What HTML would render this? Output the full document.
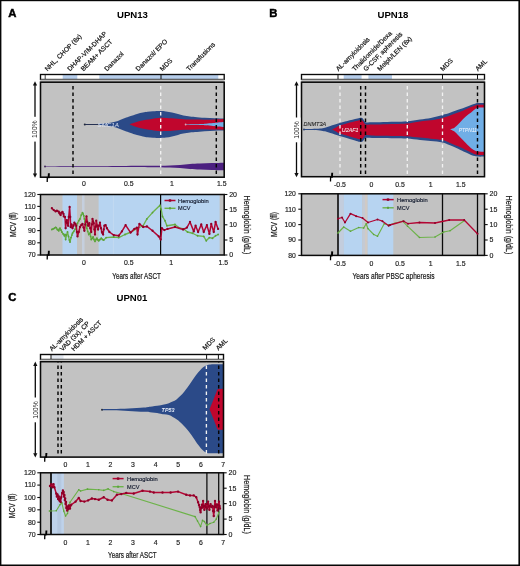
<!DOCTYPE html>
<html><head><meta charset="utf-8"><title>Figure</title>
<style>
html,body{margin:0;padding:0;background:#fff;}
body{width:520px;height:566px;overflow:hidden;}
svg{display:block;font-family:"Liberation Sans", "DejaVu Sans", sans-serif;will-change:transform;}
</style></head><body>
<svg width="520" height="566" viewBox="0 0 520 566">
<rect x="0" y="0" width="520" height="566" fill="#fff"/>
<rect x="0" y="0" width="520" height="1.2" fill="#060606"/>
<rect x="0" y="0" width="1.4" height="566" fill="#060606"/>
<rect x="518.4" y="0" width="1.6" height="566" fill="#060606"/>
<rect x="0" y="564.5" width="520" height="1.5" fill="#060606"/>
<text x="8.2" y="16.9" font-size="11.3" text-anchor="start" fill="#000" font-weight="bold" stroke="#000" stroke-width="0.45">A</text>
<text x="269.3" y="16.9" font-size="11.3" text-anchor="start" fill="#000" font-weight="bold" stroke="#000" stroke-width="0.45">B</text>
<text x="8.2" y="300.6" font-size="11.3" text-anchor="start" fill="#000" font-weight="bold" stroke="#000" stroke-width="0.45">C</text>
<text x="132.5" y="17.7" font-size="9.6" text-anchor="middle" fill="#000" font-weight="bold" >UPN13</text>
<text x="393" y="17.7" font-size="9.6" text-anchor="middle" fill="#000" font-weight="bold" >UPN18</text>
<text x="132" y="301.2" font-size="9.6" text-anchor="middle" fill="#000" font-weight="bold" >UPN01</text>
<rect x="40.5" y="74.5" width="183.7" height="5" fill="#fff"/>
<rect x="62.7" y="74.5" width="14.6" height="5" fill="#b6cdea"/>
<rect x="99.3" y="74.5" width="119" height="5" fill="#b6cdea"/>
<rect x="40.5" y="74.5" width="183.7" height="5" fill="none" stroke="#0a0a0a" stroke-width="1.35"/>
<line x1="45.2" y1="75" x2="45.2" y2="79.5" stroke="#111" stroke-width="0.8"/>
<line x1="161" y1="75" x2="161" y2="79.5" stroke="#111" stroke-width="1"/>
<rect x="40.5" y="79.5" width="183.7" height="3" fill="#bcbcbc"/>
<rect x="40.5" y="82.2" width="183.7" height="95" fill="#c2c2c2"/>
<path d="M84.8,124.1 C86.83,124.08 93.63,124.08 97.00,124.00 C100.37,123.92 102.55,123.83 105.00,123.60 C107.45,123.37 109.87,122.93 111.70,122.60 C113.53,122.27 114.62,122.05 116.00,121.60 C117.38,121.15 118.50,120.50 120.00,119.90 C121.50,119.30 123.33,118.60 125.00,118.00 C126.67,117.40 128.00,116.98 130.00,116.30 C132.00,115.62 134.83,114.53 137.00,113.90 C139.17,113.27 141.25,112.87 143.00,112.50 C144.75,112.13 145.83,111.90 147.50,111.70 C149.17,111.50 150.83,111.42 153.00,111.30 C155.17,111.18 158.33,110.98 160.50,111.00 C162.67,111.02 164.08,111.13 166.00,111.40 C167.92,111.67 170.00,112.15 172.00,112.60 C174.00,113.05 176.10,113.63 178.00,114.10 C179.90,114.57 181.40,115.02 183.40,115.40 C185.40,115.78 188.07,116.15 190.00,116.40 C191.93,116.65 192.57,116.67 195.00,116.90 C197.43,117.13 201.27,117.57 204.60,117.80 C207.93,118.03 211.73,118.18 215.00,118.30 C218.27,118.42 222.67,118.47 224.20,118.50 L224.2,130.5 C222.67,130.53 218.27,130.58 215.00,130.70 C211.73,130.82 207.93,130.97 204.60,131.20 C201.27,131.43 197.43,131.87 195.00,132.10 C192.57,132.33 191.93,132.35 190.00,132.60 C188.07,132.85 185.40,133.22 183.40,133.60 C181.40,133.98 179.90,134.43 178.00,134.90 C176.10,135.37 174.00,135.95 172.00,136.40 C170.00,136.85 167.92,137.33 166.00,137.60 C164.08,137.87 162.67,137.98 160.50,138.00 C158.33,138.02 155.17,137.82 153.00,137.70 C150.83,137.58 149.17,137.50 147.50,137.30 C145.83,137.10 144.75,136.87 143.00,136.50 C141.25,136.13 139.17,135.73 137.00,135.10 C134.83,134.47 132.00,133.38 130.00,132.70 C128.00,132.02 126.67,131.60 125.00,131.00 C123.33,130.40 121.50,129.70 120.00,129.10 C118.50,128.50 117.38,127.85 116.00,127.40 C114.62,126.95 113.53,126.73 111.70,126.40 C109.87,126.07 107.45,125.63 105.00,125.40 C102.55,125.17 100.37,125.08 97.00,125.00 C93.63,124.92 86.83,124.92 84.80,124.90 Z" fill="#2b4a88"/>
<path d="M129.5,124.5 C130.42,124.18 133.08,123.22 135.00,122.60 C136.92,121.98 139.17,121.27 141.00,120.80 C142.83,120.33 144.22,120.12 146.00,119.80 C147.78,119.48 150.03,119.17 151.70,118.90 C153.37,118.63 154.53,118.38 156.00,118.20 C157.47,118.02 158.83,117.85 160.50,117.80 C162.17,117.75 164.08,117.82 166.00,117.90 C167.92,117.98 169.10,118.08 172.00,118.30 C174.90,118.52 179.57,118.98 183.40,119.20 C187.23,119.42 191.47,119.51 195.00,119.60 C198.53,119.69 201.27,119.78 204.60,119.75 C207.93,119.72 211.73,119.51 215.00,119.40 C218.27,119.29 222.67,119.15 224.20,119.10 L224.2,129.9 C222.67,129.85 218.27,129.71 215.00,129.60 C211.73,129.49 207.93,129.28 204.60,129.25 C201.27,129.22 198.53,129.31 195.00,129.40 C191.47,129.49 187.23,129.58 183.40,129.80 C179.57,130.02 174.90,130.48 172.00,130.70 C169.10,130.92 167.92,131.02 166.00,131.10 C164.08,131.18 162.17,131.25 160.50,131.20 C158.83,131.15 157.47,130.98 156.00,130.80 C154.53,130.62 153.37,130.37 151.70,130.10 C150.03,129.83 147.78,129.52 146.00,129.20 C144.22,128.88 142.83,128.67 141.00,128.20 C139.17,127.73 136.92,127.02 135.00,126.40 C133.08,125.78 130.42,124.82 129.50,124.50 Z" fill="#c0062d"/>
<path d="M185.5,124.25 C187.92,124.22 196.58,124.17 200.00,124.10 C203.42,124.02 203.83,123.97 206.00,123.80 C208.17,123.63 211.00,123.32 213.00,123.10 C215.00,122.88 216.13,122.68 218.00,122.50 C219.87,122.32 223.17,122.08 224.20,122.00 L224.2,127.0 C223.17,126.92 219.87,126.68 218.00,126.50 C216.13,126.32 215.00,126.12 213.00,125.90 C211.00,125.68 208.17,125.37 206.00,125.20 C203.83,125.03 203.42,124.98 200.00,124.90 C196.58,124.83 187.92,124.78 185.50,124.75 Z" fill="#70aee6"/>
<circle cx="84.8" cy="124.5" r="1.05" fill="#222a3a"/>
<circle cx="185.6" cy="124.5" r="0.9" fill="#d9a6b4"/>
<path d="M45,166.15 C57.50,166.12 102.50,166.05 120.00,166.00 C137.50,165.95 143.33,165.90 150.00,165.85 C156.67,165.80 156.67,165.77 160.00,165.70 C163.33,165.62 166.67,165.53 170.00,165.40 C173.33,165.27 176.67,165.13 180.00,164.90 C183.33,164.67 186.67,164.23 190.00,164.00 C193.33,163.77 196.33,163.67 200.00,163.50 C203.67,163.33 207.97,163.14 212.00,163.00 C216.03,162.86 222.17,162.71 224.20,162.65 L224.2,170.35 C222.17,170.29 216.03,170.14 212.00,170.00 C207.97,169.86 203.67,169.67 200.00,169.50 C196.33,169.33 193.33,169.23 190.00,169.00 C186.67,168.77 183.33,168.33 180.00,168.10 C176.67,167.87 173.33,167.73 170.00,167.60 C166.67,167.47 163.33,167.38 160.00,167.30 C156.67,167.23 156.67,167.20 150.00,167.15 C143.33,167.10 137.50,167.05 120.00,167.00 C102.50,166.95 57.50,166.88 45.00,166.85 Z" fill="#4c2080"/>
<circle cx="45" cy="166.5" r="0.9" fill="#3a2050"/>
<line x1="84.8" y1="124.5" x2="99" y2="124.5" stroke="#27304d" stroke-width="0.9"/>
<text x="97.5" y="126.6" font-size="5.8" text-anchor="start" fill="#dde4f2" font-style="italic" textLength="21.5" lengthAdjust="spacingAndGlyphs" >SMC1A</text>
<line x1="73" y1="82.5" x2="73" y2="176.5" stroke="#050505" stroke-width="1.45" stroke-dasharray="3.4 3.1" stroke-dashoffset="2.9"/>
<line x1="160.7" y1="82.5" x2="160.7" y2="176.3" stroke="#f2f2f2" stroke-width="1.35" stroke-dasharray="3.4 3.1" stroke-dashoffset="2.9"/>
<line x1="216.3" y1="82.5" x2="216.3" y2="176.3" stroke="#050505" stroke-width="1.45" stroke-dasharray="3.4 3.1" stroke-dashoffset="2.9"/>
<rect x="40.5" y="82.2" width="183.7" height="95" fill="none" stroke="#0a0a0a" stroke-width="1.55"/>
<line x1="35" y1="83.2" x2="35" y2="175.8" stroke="#0a0a0a" stroke-width="1.3"/>
<path d="M35,81.2 L32.9,85.60000000000001 L37.1,85.60000000000001 Z" fill="#111"/>
<path d="M35,177.8 L32.9,173.4 L37.1,173.4 Z" fill="#111"/>
<rect x="31" y="116.8" width="8" height="24.8" fill="#fff"/>
<text x="37.4" y="129.2" font-size="6.9" text-anchor="middle" fill="#111" transform="rotate(-90 37.4 129.2)" >100%</text>
<path d="M48.9,173.3 L48.6,178.1" fill="none" stroke="#000" stroke-width="1.9"/>
<path d="M48.4,177.7 L47.3,177.7 L47.2,182.1" fill="none" stroke="#000" stroke-width="1.3"/>
<text x="47.5" y="71.5" font-size="6.6" text-anchor="start" fill="#141414" transform="rotate(-45 47.5 71.5)" stroke="#141414" stroke-width="0.2">NHL, CHOP (6x)</text>
<text x="70" y="71.5" font-size="6.6" text-anchor="start" fill="#141414" transform="rotate(-45 70 71.5)" stroke="#141414" stroke-width="0.2">DHAP-VIM-DHAP</text>
<text x="83.5" y="71.5" font-size="6.6" text-anchor="start" fill="#141414" transform="rotate(-45 83.5 71.5)" stroke="#141414" stroke-width="0.2">BEAM+ ASCT</text>
<text x="107" y="71.5" font-size="6.6" text-anchor="start" fill="#141414" transform="rotate(-45 107 71.5)" stroke="#141414" stroke-width="0.2">Danazol</text>
<text x="138.3" y="71.5" font-size="6.6" text-anchor="start" fill="#141414" transform="rotate(-45 138.3 71.5)" stroke="#141414" stroke-width="0.2">Danazol/ EPO</text>
<text x="162.5" y="71.5" font-size="6.6" text-anchor="start" fill="#141414" transform="rotate(-45 162.5 71.5)" stroke="#141414" stroke-width="0.2">MDS</text>
<text x="189" y="71.5" font-size="6.6" text-anchor="start" fill="#141414" transform="rotate(-45 189 71.5)" stroke="#141414" stroke-width="0.2">Transfusions</text>
<text x="84" y="186.1" font-size="6.9" text-anchor="middle" fill="#1c1c1c" stroke="#1c1c1c" stroke-width="0.16">0</text>
<text x="128.8" y="186.1" font-size="6.9" text-anchor="middle" fill="#1c1c1c" stroke="#1c1c1c" stroke-width="0.16">0.5</text>
<text x="171.8" y="186.1" font-size="6.9" text-anchor="middle" fill="#1c1c1c" stroke="#1c1c1c" stroke-width="0.16">1</text>
<text x="221.8" y="186.1" font-size="6.9" text-anchor="middle" fill="#1c1c1c" stroke="#1c1c1c" stroke-width="0.16">1.5</text>
<rect x="40.5" y="194.5" width="183.7" height="60.5" fill="#c2c2c2"/>
<rect x="62.5" y="194.5" width="14.5" height="60.5" fill="#b7d4f1"/>
<rect x="82" y="194.5" width="2.5" height="60.5" fill="#c5cfde"/>
<rect x="98.6" y="194.5" width="121" height="60.5" fill="#b7d4f1"/>
<line x1="113.4" y1="194.5" x2="113.4" y2="255" stroke="#c2d9f1" stroke-width="1"/>
<line x1="160.6" y1="194.5" x2="160.6" y2="255" stroke="#0a0a0a" stroke-width="1.2"/>
<polyline points="51.88,229.5 53.12,228.88 54.38,228.25 55.62,227.38 56.25,227.62 57.25,229.5 58.12,230.12 58.75,230.75 59.38,228.88 60.0,228.25 61.0,230.12 61.88,232.0 63.12,233.88 64.38,235.75 65.0,234.5 65.62,239.5 66.5,235.12 67.5,232.0 68.5,236.38 69.38,240.12 70.0,242.0 71.0,237.62 71.88,235.12 72.5,233.25 73.75,231.38 75.0,229.5 76.25,226.38 77.5,223.25 78.75,220.75 80.0,218.88 81.25,215.12 82.5,212.62 83.12,213.88 83.75,215.75 84.38,218.88 85.0,222.0 86.0,225.12 86.88,228.25 87.75,231.38 88.75,234.5 89.38,233.5 90.0,233.25 90.62,236.38 91.25,239.5 92.25,238.25 93.12,237.0 94.0,239.5 95.0,241.38 96.0,239.5 96.88,238.25 97.75,239.75 98.75,240.75 100.0,239.5 101.25,238.25 102.5,239.5 103.75,240.12 106.25,237.6 113.75,237 118.75,237.6 125,234.5 131.25,232 137.5,228.25 143.1,225.75 146.9,218.9 152.5,212.6 160,205.3 161.25,209.5 162.5,216.5 165,220.75 166.9,225.75 175,224.5 178.75,227.6 183.75,228.9 187.5,232 192.5,233.25 197.5,235.75 203.75,236.4 206.25,240.75 209.4,237.6 212.5,238.25 215.6,235.75 218.1,234.5" fill="none" stroke="#6db34a" stroke-width="1.35" stroke-linejoin="round" stroke-linecap="round"/>
<path d="M50.98,229.50a0.9,0.9 0 1,0 1.8,0a0.9,0.9 0 1,0 -1.8,0M52.22,228.88a0.9,0.9 0 1,0 1.8,0a0.9,0.9 0 1,0 -1.8,0M53.48,228.25a0.9,0.9 0 1,0 1.8,0a0.9,0.9 0 1,0 -1.8,0M54.72,227.38a0.9,0.9 0 1,0 1.8,0a0.9,0.9 0 1,0 -1.8,0M55.35,227.62a0.9,0.9 0 1,0 1.8,0a0.9,0.9 0 1,0 -1.8,0M56.35,229.50a0.9,0.9 0 1,0 1.8,0a0.9,0.9 0 1,0 -1.8,0M57.22,230.12a0.9,0.9 0 1,0 1.8,0a0.9,0.9 0 1,0 -1.8,0M57.85,230.75a0.9,0.9 0 1,0 1.8,0a0.9,0.9 0 1,0 -1.8,0M58.48,228.88a0.9,0.9 0 1,0 1.8,0a0.9,0.9 0 1,0 -1.8,0M59.10,228.25a0.9,0.9 0 1,0 1.8,0a0.9,0.9 0 1,0 -1.8,0M60.10,230.12a0.9,0.9 0 1,0 1.8,0a0.9,0.9 0 1,0 -1.8,0M60.98,232.00a0.9,0.9 0 1,0 1.8,0a0.9,0.9 0 1,0 -1.8,0M62.22,233.88a0.9,0.9 0 1,0 1.8,0a0.9,0.9 0 1,0 -1.8,0M63.48,235.75a0.9,0.9 0 1,0 1.8,0a0.9,0.9 0 1,0 -1.8,0M64.10,234.50a0.9,0.9 0 1,0 1.8,0a0.9,0.9 0 1,0 -1.8,0M64.72,239.50a0.9,0.9 0 1,0 1.8,0a0.9,0.9 0 1,0 -1.8,0M65.60,235.12a0.9,0.9 0 1,0 1.8,0a0.9,0.9 0 1,0 -1.8,0M66.60,232.00a0.9,0.9 0 1,0 1.8,0a0.9,0.9 0 1,0 -1.8,0M67.60,236.38a0.9,0.9 0 1,0 1.8,0a0.9,0.9 0 1,0 -1.8,0M68.48,240.12a0.9,0.9 0 1,0 1.8,0a0.9,0.9 0 1,0 -1.8,0M69.10,242.00a0.9,0.9 0 1,0 1.8,0a0.9,0.9 0 1,0 -1.8,0M70.10,237.62a0.9,0.9 0 1,0 1.8,0a0.9,0.9 0 1,0 -1.8,0M70.98,235.12a0.9,0.9 0 1,0 1.8,0a0.9,0.9 0 1,0 -1.8,0M71.60,233.25a0.9,0.9 0 1,0 1.8,0a0.9,0.9 0 1,0 -1.8,0M72.85,231.38a0.9,0.9 0 1,0 1.8,0a0.9,0.9 0 1,0 -1.8,0M74.10,229.50a0.9,0.9 0 1,0 1.8,0a0.9,0.9 0 1,0 -1.8,0M75.35,226.38a0.9,0.9 0 1,0 1.8,0a0.9,0.9 0 1,0 -1.8,0M76.60,223.25a0.9,0.9 0 1,0 1.8,0a0.9,0.9 0 1,0 -1.8,0M77.85,220.75a0.9,0.9 0 1,0 1.8,0a0.9,0.9 0 1,0 -1.8,0M79.10,218.88a0.9,0.9 0 1,0 1.8,0a0.9,0.9 0 1,0 -1.8,0M80.35,215.12a0.9,0.9 0 1,0 1.8,0a0.9,0.9 0 1,0 -1.8,0M81.60,212.62a0.9,0.9 0 1,0 1.8,0a0.9,0.9 0 1,0 -1.8,0M82.22,213.88a0.9,0.9 0 1,0 1.8,0a0.9,0.9 0 1,0 -1.8,0M82.85,215.75a0.9,0.9 0 1,0 1.8,0a0.9,0.9 0 1,0 -1.8,0M83.48,218.88a0.9,0.9 0 1,0 1.8,0a0.9,0.9 0 1,0 -1.8,0M84.10,222.00a0.9,0.9 0 1,0 1.8,0a0.9,0.9 0 1,0 -1.8,0M85.10,225.12a0.9,0.9 0 1,0 1.8,0a0.9,0.9 0 1,0 -1.8,0M85.98,228.25a0.9,0.9 0 1,0 1.8,0a0.9,0.9 0 1,0 -1.8,0M86.85,231.38a0.9,0.9 0 1,0 1.8,0a0.9,0.9 0 1,0 -1.8,0M87.85,234.50a0.9,0.9 0 1,0 1.8,0a0.9,0.9 0 1,0 -1.8,0M88.48,233.50a0.9,0.9 0 1,0 1.8,0a0.9,0.9 0 1,0 -1.8,0M89.10,233.25a0.9,0.9 0 1,0 1.8,0a0.9,0.9 0 1,0 -1.8,0M89.72,236.38a0.9,0.9 0 1,0 1.8,0a0.9,0.9 0 1,0 -1.8,0M90.35,239.50a0.9,0.9 0 1,0 1.8,0a0.9,0.9 0 1,0 -1.8,0M91.35,238.25a0.9,0.9 0 1,0 1.8,0a0.9,0.9 0 1,0 -1.8,0M92.22,237.00a0.9,0.9 0 1,0 1.8,0a0.9,0.9 0 1,0 -1.8,0M93.10,239.50a0.9,0.9 0 1,0 1.8,0a0.9,0.9 0 1,0 -1.8,0M94.10,241.38a0.9,0.9 0 1,0 1.8,0a0.9,0.9 0 1,0 -1.8,0M95.10,239.50a0.9,0.9 0 1,0 1.8,0a0.9,0.9 0 1,0 -1.8,0M95.98,238.25a0.9,0.9 0 1,0 1.8,0a0.9,0.9 0 1,0 -1.8,0M96.85,239.75a0.9,0.9 0 1,0 1.8,0a0.9,0.9 0 1,0 -1.8,0M97.85,240.75a0.9,0.9 0 1,0 1.8,0a0.9,0.9 0 1,0 -1.8,0M99.10,239.50a0.9,0.9 0 1,0 1.8,0a0.9,0.9 0 1,0 -1.8,0M100.35,238.25a0.9,0.9 0 1,0 1.8,0a0.9,0.9 0 1,0 -1.8,0M101.60,239.50a0.9,0.9 0 1,0 1.8,0a0.9,0.9 0 1,0 -1.8,0M102.85,240.12a0.9,0.9 0 1,0 1.8,0a0.9,0.9 0 1,0 -1.8,0M105.35,237.60a0.9,0.9 0 1,0 1.8,0a0.9,0.9 0 1,0 -1.8,0M112.85,237.00a0.9,0.9 0 1,0 1.8,0a0.9,0.9 0 1,0 -1.8,0M117.85,237.60a0.9,0.9 0 1,0 1.8,0a0.9,0.9 0 1,0 -1.8,0M124.10,234.50a0.9,0.9 0 1,0 1.8,0a0.9,0.9 0 1,0 -1.8,0M130.35,232.00a0.9,0.9 0 1,0 1.8,0a0.9,0.9 0 1,0 -1.8,0M136.60,228.25a0.9,0.9 0 1,0 1.8,0a0.9,0.9 0 1,0 -1.8,0M142.20,225.75a0.9,0.9 0 1,0 1.8,0a0.9,0.9 0 1,0 -1.8,0M146.00,218.90a0.9,0.9 0 1,0 1.8,0a0.9,0.9 0 1,0 -1.8,0M151.60,212.60a0.9,0.9 0 1,0 1.8,0a0.9,0.9 0 1,0 -1.8,0M159.10,205.30a0.9,0.9 0 1,0 1.8,0a0.9,0.9 0 1,0 -1.8,0M160.35,209.50a0.9,0.9 0 1,0 1.8,0a0.9,0.9 0 1,0 -1.8,0M161.60,216.50a0.9,0.9 0 1,0 1.8,0a0.9,0.9 0 1,0 -1.8,0M164.10,220.75a0.9,0.9 0 1,0 1.8,0a0.9,0.9 0 1,0 -1.8,0M166.00,225.75a0.9,0.9 0 1,0 1.8,0a0.9,0.9 0 1,0 -1.8,0M174.10,224.50a0.9,0.9 0 1,0 1.8,0a0.9,0.9 0 1,0 -1.8,0M177.85,227.60a0.9,0.9 0 1,0 1.8,0a0.9,0.9 0 1,0 -1.8,0M182.85,228.90a0.9,0.9 0 1,0 1.8,0a0.9,0.9 0 1,0 -1.8,0M186.60,232.00a0.9,0.9 0 1,0 1.8,0a0.9,0.9 0 1,0 -1.8,0M191.60,233.25a0.9,0.9 0 1,0 1.8,0a0.9,0.9 0 1,0 -1.8,0M196.60,235.75a0.9,0.9 0 1,0 1.8,0a0.9,0.9 0 1,0 -1.8,0M202.85,236.40a0.9,0.9 0 1,0 1.8,0a0.9,0.9 0 1,0 -1.8,0M205.35,240.75a0.9,0.9 0 1,0 1.8,0a0.9,0.9 0 1,0 -1.8,0M208.50,237.60a0.9,0.9 0 1,0 1.8,0a0.9,0.9 0 1,0 -1.8,0M211.60,238.25a0.9,0.9 0 1,0 1.8,0a0.9,0.9 0 1,0 -1.8,0M214.70,235.75a0.9,0.9 0 1,0 1.8,0a0.9,0.9 0 1,0 -1.8,0M217.20,234.50a0.9,0.9 0 1,0 1.8,0a0.9,0.9 0 1,0 -1.8,0" fill="#5aa23a"/>
<polyline points="51.88,208.25 53.75,210.12 55.62,211.38 56.88,210.75 58.75,211.75 59.38,213.25 60.62,215.12 61.5,212.62 62.5,212.0 63.5,213.88 63.75,216.38 65.0,217.0 65.62,228.25 66.25,222.0 66.88,220.12 67.5,223.25 68.12,225.75 68.75,217.0 69.62,207.0 70.25,217.0 70.62,227.0 71.5,224.5 72.5,228.25 73.5,225.75 74.38,222.62 75.38,223.88 76.25,225.75 76.88,232.0 77.5,236.38 78.75,232.0 80.0,227.0 81.25,225.12 82.5,223.88 83.5,227.62 84.38,230.75 85.25,224.5 86.5,216.38 87.25,222.0 88.12,225.75 88.75,223.88 89.38,223.25 90.25,228.25 91.25,232.0 91.88,224.5 92.5,218.88 93.12,221.38 93.75,223.25 94.38,229.5 95.0,234.5 95.62,227.0 96.25,220.75 97.25,225.75 98.12,229.5 99.0,225.75 100.0,222.62 101.0,228.25 101.88,232.0 102.5,233.25 103.12,234.5 103.75,229.5 104.38,225.75 105.6,225.1 106.9,228.25 109.4,232 113.75,235.1 118.75,235.75 121.9,231.4 125.6,225.1 130.6,232.6 134.4,228.9 136.9,227.6 137.5,234.5 139.4,223.9 143.1,227 146.9,226.4 152.5,230.75 158.75,236.4 160.7,239.5 161.9,228.25 164.4,230.1 167.5,228.9 175,227 183.1,229.5 186.9,227.6 190,222 193.75,231.4 195.6,225.75 198.1,232 201.25,224.5 203.75,232 206.9,225.1 209.4,233.9 211.25,223.9 213.75,232 215.6,222 218.1,228.9" fill="none" stroke="#b30533" stroke-width="1.5" stroke-linejoin="round" stroke-linecap="round"/>
<path d="M50.73,208.25a1.15,1.15 0 1,0 2.3,0a1.15,1.15 0 1,0 -2.3,0M52.60,210.12a1.15,1.15 0 1,0 2.3,0a1.15,1.15 0 1,0 -2.3,0M54.47,211.38a1.15,1.15 0 1,0 2.3,0a1.15,1.15 0 1,0 -2.3,0M55.73,210.75a1.15,1.15 0 1,0 2.3,0a1.15,1.15 0 1,0 -2.3,0M57.60,211.75a1.15,1.15 0 1,0 2.3,0a1.15,1.15 0 1,0 -2.3,0M58.23,213.25a1.15,1.15 0 1,0 2.3,0a1.15,1.15 0 1,0 -2.3,0M59.47,215.12a1.15,1.15 0 1,0 2.3,0a1.15,1.15 0 1,0 -2.3,0M60.35,212.62a1.15,1.15 0 1,0 2.3,0a1.15,1.15 0 1,0 -2.3,0M61.35,212.00a1.15,1.15 0 1,0 2.3,0a1.15,1.15 0 1,0 -2.3,0M62.35,213.88a1.15,1.15 0 1,0 2.3,0a1.15,1.15 0 1,0 -2.3,0M62.60,216.38a1.15,1.15 0 1,0 2.3,0a1.15,1.15 0 1,0 -2.3,0M63.85,217.00a1.15,1.15 0 1,0 2.3,0a1.15,1.15 0 1,0 -2.3,0M64.47,228.25a1.15,1.15 0 1,0 2.3,0a1.15,1.15 0 1,0 -2.3,0M65.10,222.00a1.15,1.15 0 1,0 2.3,0a1.15,1.15 0 1,0 -2.3,0M65.73,220.12a1.15,1.15 0 1,0 2.3,0a1.15,1.15 0 1,0 -2.3,0M66.35,223.25a1.15,1.15 0 1,0 2.3,0a1.15,1.15 0 1,0 -2.3,0M66.97,225.75a1.15,1.15 0 1,0 2.3,0a1.15,1.15 0 1,0 -2.3,0M67.60,217.00a1.15,1.15 0 1,0 2.3,0a1.15,1.15 0 1,0 -2.3,0M68.47,207.00a1.15,1.15 0 1,0 2.3,0a1.15,1.15 0 1,0 -2.3,0M69.10,217.00a1.15,1.15 0 1,0 2.3,0a1.15,1.15 0 1,0 -2.3,0M69.47,227.00a1.15,1.15 0 1,0 2.3,0a1.15,1.15 0 1,0 -2.3,0M70.35,224.50a1.15,1.15 0 1,0 2.3,0a1.15,1.15 0 1,0 -2.3,0M71.35,228.25a1.15,1.15 0 1,0 2.3,0a1.15,1.15 0 1,0 -2.3,0M72.35,225.75a1.15,1.15 0 1,0 2.3,0a1.15,1.15 0 1,0 -2.3,0M73.23,222.62a1.15,1.15 0 1,0 2.3,0a1.15,1.15 0 1,0 -2.3,0M74.23,223.88a1.15,1.15 0 1,0 2.3,0a1.15,1.15 0 1,0 -2.3,0M75.10,225.75a1.15,1.15 0 1,0 2.3,0a1.15,1.15 0 1,0 -2.3,0M75.73,232.00a1.15,1.15 0 1,0 2.3,0a1.15,1.15 0 1,0 -2.3,0M76.35,236.38a1.15,1.15 0 1,0 2.3,0a1.15,1.15 0 1,0 -2.3,0M77.60,232.00a1.15,1.15 0 1,0 2.3,0a1.15,1.15 0 1,0 -2.3,0M78.85,227.00a1.15,1.15 0 1,0 2.3,0a1.15,1.15 0 1,0 -2.3,0M80.10,225.12a1.15,1.15 0 1,0 2.3,0a1.15,1.15 0 1,0 -2.3,0M81.35,223.88a1.15,1.15 0 1,0 2.3,0a1.15,1.15 0 1,0 -2.3,0M82.35,227.62a1.15,1.15 0 1,0 2.3,0a1.15,1.15 0 1,0 -2.3,0M83.23,230.75a1.15,1.15 0 1,0 2.3,0a1.15,1.15 0 1,0 -2.3,0M84.10,224.50a1.15,1.15 0 1,0 2.3,0a1.15,1.15 0 1,0 -2.3,0M85.35,216.38a1.15,1.15 0 1,0 2.3,0a1.15,1.15 0 1,0 -2.3,0M86.10,222.00a1.15,1.15 0 1,0 2.3,0a1.15,1.15 0 1,0 -2.3,0M86.97,225.75a1.15,1.15 0 1,0 2.3,0a1.15,1.15 0 1,0 -2.3,0M87.60,223.88a1.15,1.15 0 1,0 2.3,0a1.15,1.15 0 1,0 -2.3,0M88.23,223.25a1.15,1.15 0 1,0 2.3,0a1.15,1.15 0 1,0 -2.3,0M89.10,228.25a1.15,1.15 0 1,0 2.3,0a1.15,1.15 0 1,0 -2.3,0M90.10,232.00a1.15,1.15 0 1,0 2.3,0a1.15,1.15 0 1,0 -2.3,0M90.73,224.50a1.15,1.15 0 1,0 2.3,0a1.15,1.15 0 1,0 -2.3,0M91.35,218.88a1.15,1.15 0 1,0 2.3,0a1.15,1.15 0 1,0 -2.3,0M91.97,221.38a1.15,1.15 0 1,0 2.3,0a1.15,1.15 0 1,0 -2.3,0M92.60,223.25a1.15,1.15 0 1,0 2.3,0a1.15,1.15 0 1,0 -2.3,0M93.23,229.50a1.15,1.15 0 1,0 2.3,0a1.15,1.15 0 1,0 -2.3,0M93.85,234.50a1.15,1.15 0 1,0 2.3,0a1.15,1.15 0 1,0 -2.3,0M94.47,227.00a1.15,1.15 0 1,0 2.3,0a1.15,1.15 0 1,0 -2.3,0M95.10,220.75a1.15,1.15 0 1,0 2.3,0a1.15,1.15 0 1,0 -2.3,0M96.10,225.75a1.15,1.15 0 1,0 2.3,0a1.15,1.15 0 1,0 -2.3,0M96.97,229.50a1.15,1.15 0 1,0 2.3,0a1.15,1.15 0 1,0 -2.3,0M97.85,225.75a1.15,1.15 0 1,0 2.3,0a1.15,1.15 0 1,0 -2.3,0M98.85,222.62a1.15,1.15 0 1,0 2.3,0a1.15,1.15 0 1,0 -2.3,0M99.85,228.25a1.15,1.15 0 1,0 2.3,0a1.15,1.15 0 1,0 -2.3,0M100.73,232.00a1.15,1.15 0 1,0 2.3,0a1.15,1.15 0 1,0 -2.3,0M101.35,233.25a1.15,1.15 0 1,0 2.3,0a1.15,1.15 0 1,0 -2.3,0M101.97,234.50a1.15,1.15 0 1,0 2.3,0a1.15,1.15 0 1,0 -2.3,0M102.60,229.50a1.15,1.15 0 1,0 2.3,0a1.15,1.15 0 1,0 -2.3,0M103.23,225.75a1.15,1.15 0 1,0 2.3,0a1.15,1.15 0 1,0 -2.3,0M104.45,225.10a1.15,1.15 0 1,0 2.3,0a1.15,1.15 0 1,0 -2.3,0M105.75,228.25a1.15,1.15 0 1,0 2.3,0a1.15,1.15 0 1,0 -2.3,0M108.25,232.00a1.15,1.15 0 1,0 2.3,0a1.15,1.15 0 1,0 -2.3,0M112.60,235.10a1.15,1.15 0 1,0 2.3,0a1.15,1.15 0 1,0 -2.3,0M117.60,235.75a1.15,1.15 0 1,0 2.3,0a1.15,1.15 0 1,0 -2.3,0M120.75,231.40a1.15,1.15 0 1,0 2.3,0a1.15,1.15 0 1,0 -2.3,0M124.45,225.10a1.15,1.15 0 1,0 2.3,0a1.15,1.15 0 1,0 -2.3,0M129.45,232.60a1.15,1.15 0 1,0 2.3,0a1.15,1.15 0 1,0 -2.3,0M133.25,228.90a1.15,1.15 0 1,0 2.3,0a1.15,1.15 0 1,0 -2.3,0M135.75,227.60a1.15,1.15 0 1,0 2.3,0a1.15,1.15 0 1,0 -2.3,0M136.35,234.50a1.15,1.15 0 1,0 2.3,0a1.15,1.15 0 1,0 -2.3,0M138.25,223.90a1.15,1.15 0 1,0 2.3,0a1.15,1.15 0 1,0 -2.3,0M141.95,227.00a1.15,1.15 0 1,0 2.3,0a1.15,1.15 0 1,0 -2.3,0M145.75,226.40a1.15,1.15 0 1,0 2.3,0a1.15,1.15 0 1,0 -2.3,0M151.35,230.75a1.15,1.15 0 1,0 2.3,0a1.15,1.15 0 1,0 -2.3,0M157.60,236.40a1.15,1.15 0 1,0 2.3,0a1.15,1.15 0 1,0 -2.3,0M159.55,239.50a1.15,1.15 0 1,0 2.3,0a1.15,1.15 0 1,0 -2.3,0M160.75,228.25a1.15,1.15 0 1,0 2.3,0a1.15,1.15 0 1,0 -2.3,0M163.25,230.10a1.15,1.15 0 1,0 2.3,0a1.15,1.15 0 1,0 -2.3,0M166.35,228.90a1.15,1.15 0 1,0 2.3,0a1.15,1.15 0 1,0 -2.3,0M173.85,227.00a1.15,1.15 0 1,0 2.3,0a1.15,1.15 0 1,0 -2.3,0M181.95,229.50a1.15,1.15 0 1,0 2.3,0a1.15,1.15 0 1,0 -2.3,0M185.75,227.60a1.15,1.15 0 1,0 2.3,0a1.15,1.15 0 1,0 -2.3,0M188.85,222.00a1.15,1.15 0 1,0 2.3,0a1.15,1.15 0 1,0 -2.3,0M192.60,231.40a1.15,1.15 0 1,0 2.3,0a1.15,1.15 0 1,0 -2.3,0M194.45,225.75a1.15,1.15 0 1,0 2.3,0a1.15,1.15 0 1,0 -2.3,0M196.95,232.00a1.15,1.15 0 1,0 2.3,0a1.15,1.15 0 1,0 -2.3,0M200.10,224.50a1.15,1.15 0 1,0 2.3,0a1.15,1.15 0 1,0 -2.3,0M202.60,232.00a1.15,1.15 0 1,0 2.3,0a1.15,1.15 0 1,0 -2.3,0M205.75,225.10a1.15,1.15 0 1,0 2.3,0a1.15,1.15 0 1,0 -2.3,0M208.25,233.90a1.15,1.15 0 1,0 2.3,0a1.15,1.15 0 1,0 -2.3,0M210.10,223.90a1.15,1.15 0 1,0 2.3,0a1.15,1.15 0 1,0 -2.3,0M212.60,232.00a1.15,1.15 0 1,0 2.3,0a1.15,1.15 0 1,0 -2.3,0M214.45,222.00a1.15,1.15 0 1,0 2.3,0a1.15,1.15 0 1,0 -2.3,0M216.95,228.90a1.15,1.15 0 1,0 2.3,0a1.15,1.15 0 1,0 -2.3,0" fill="#8f0028"/>
<rect x="40.5" y="194.5" width="183.7" height="60.5" fill="none" stroke="#0a0a0a" stroke-width="1.5"/>
<line x1="37.3" y1="194.5" x2="40.5" y2="194.5" stroke="#111" stroke-width="1.1"/>
<text x="35.7" y="196.8" font-size="7" text-anchor="end" fill="#1c1c1c" stroke="#1c1c1c" stroke-width="0.16">120</text>
<line x1="37.3" y1="206.4" x2="40.5" y2="206.4" stroke="#111" stroke-width="1.1"/>
<text x="35.7" y="208.70000000000002" font-size="7" text-anchor="end" fill="#1c1c1c" stroke="#1c1c1c" stroke-width="0.16">110</text>
<line x1="37.3" y1="218.4" x2="40.5" y2="218.4" stroke="#111" stroke-width="1.1"/>
<text x="35.7" y="220.70000000000002" font-size="7" text-anchor="end" fill="#1c1c1c" stroke="#1c1c1c" stroke-width="0.16">100</text>
<line x1="37.3" y1="230.6" x2="40.5" y2="230.6" stroke="#111" stroke-width="1.1"/>
<text x="35.7" y="232.9" font-size="7" text-anchor="end" fill="#1c1c1c" stroke="#1c1c1c" stroke-width="0.16">90</text>
<line x1="37.3" y1="242.8" x2="40.5" y2="242.8" stroke="#111" stroke-width="1.1"/>
<text x="35.7" y="245.10000000000002" font-size="7" text-anchor="end" fill="#1c1c1c" stroke="#1c1c1c" stroke-width="0.16">80</text>
<line x1="37.3" y1="255" x2="40.5" y2="255" stroke="#111" stroke-width="1.1"/>
<text x="35.7" y="257.3" font-size="7" text-anchor="end" fill="#1c1c1c" stroke="#1c1c1c" stroke-width="0.16">70</text>
<line x1="224.2" y1="194.5" x2="227.39999999999998" y2="194.5" stroke="#111" stroke-width="1.1"/>
<text x="229.2" y="196.8" font-size="7" text-anchor="start" fill="#1c1c1c" stroke="#1c1c1c" stroke-width="0.16">20</text>
<line x1="224.2" y1="209.6" x2="227.39999999999998" y2="209.6" stroke="#111" stroke-width="1.1"/>
<text x="229.2" y="211.9" font-size="7" text-anchor="start" fill="#1c1c1c" stroke="#1c1c1c" stroke-width="0.16">15</text>
<line x1="224.2" y1="224.8" x2="227.39999999999998" y2="224.8" stroke="#111" stroke-width="1.1"/>
<text x="229.2" y="227.10000000000002" font-size="7" text-anchor="start" fill="#1c1c1c" stroke="#1c1c1c" stroke-width="0.16">10</text>
<line x1="224.2" y1="240" x2="227.39999999999998" y2="240" stroke="#111" stroke-width="1.1"/>
<text x="229.2" y="242.3" font-size="7" text-anchor="start" fill="#1c1c1c" stroke="#1c1c1c" stroke-width="0.16">5</text>
<line x1="224.2" y1="255" x2="227.39999999999998" y2="255" stroke="#111" stroke-width="1.1"/>
<text x="229.2" y="257.3" font-size="7" text-anchor="start" fill="#1c1c1c" stroke="#1c1c1c" stroke-width="0.16">0</text>
<path d="M48.9,250.8 L48.6,255.6" fill="none" stroke="#000" stroke-width="1.9"/>
<path d="M48.4,255.2 L47.3,255.2 L47.2,259.6" fill="none" stroke="#000" stroke-width="1.3"/>
<text x="84" y="264.8" font-size="6.9" text-anchor="middle" fill="#1c1c1c" stroke="#1c1c1c" stroke-width="0.16">0</text>
<text x="128.8" y="264.8" font-size="6.9" text-anchor="middle" fill="#1c1c1c" stroke="#1c1c1c" stroke-width="0.16">0.5</text>
<text x="171.2" y="264.8" font-size="6.9" text-anchor="middle" fill="#1c1c1c" stroke="#1c1c1c" stroke-width="0.16">1</text>
<text x="223.3" y="264.8" font-size="6.9" text-anchor="middle" fill="#1c1c1c" stroke="#1c1c1c" stroke-width="0.16">1.5</text>
<text x="16.3" y="224.6" font-size="8.2" text-anchor="middle" fill="#1a1a1a" transform="rotate(-90 16.3 224.6)" textLength="24.8" lengthAdjust="spacingAndGlyphs" stroke="#1a1a1a" stroke-width="0.22">MCV (fl)</text>
<text x="243.8" y="225" font-size="8.3" text-anchor="middle" fill="#1a1a1a" transform="rotate(90 243.8 225)" textLength="58.8" lengthAdjust="spacingAndGlyphs" stroke="#1a1a1a" stroke-width="0.22">Hemoglobin (g/dL)</text>
<text x="136.6" y="278.8" font-size="8.9" text-anchor="middle" fill="#1a1a1a" textLength="48.5" lengthAdjust="spacingAndGlyphs" stroke="#1a1a1a" stroke-width="0.22">Years after ASCT</text>
<line x1="164.5" y1="200.5" x2="175.5" y2="200.5" stroke="#b30533" stroke-width="1.5"/>
<rect x="168.8" y="199.3" width="2.4" height="2.4" fill="#8f0028"/>
<line x1="164.5" y1="208.3" x2="175.5" y2="208.3" stroke="#6db34a" stroke-width="1.4"/>
<rect x="169" y="207.3" width="2" height="2" fill="#5aa23a"/>
<text x="178" y="202.6" font-size="6.1" text-anchor="start" fill="#10182c" textLength="30.6" lengthAdjust="spacingAndGlyphs" stroke="#10182c" stroke-width="0.15">Hemoglobin</text>
<text x="178" y="210.4" font-size="6.1" text-anchor="start" fill="#10182c" textLength="12.4" lengthAdjust="spacingAndGlyphs" stroke="#10182c" stroke-width="0.15">MCV</text>
<rect x="301.5" y="74.5" width="183.0" height="5" fill="#fff"/>
<rect x="343.7" y="74.5" width="17.9" height="5" fill="#b6cdea"/>
<rect x="368.4" y="74.5" width="23.6" height="5" fill="#b6cdea"/>
<rect x="301.5" y="74.5" width="183.0" height="5" fill="none" stroke="#0a0a0a" stroke-width="1.35"/>
<line x1="338" y1="75" x2="338" y2="79.5" stroke="#111" stroke-width="1"/>
<line x1="442.5" y1="75" x2="442.5" y2="79.5" stroke="#111" stroke-width="1"/>
<line x1="477.5" y1="75" x2="477.5" y2="79.5" stroke="#111" stroke-width="1"/>
<rect x="301.5" y="79.5" width="183.0" height="3" fill="#bcbcbc"/>
<rect x="301.5" y="82.2" width="183.0" height="94.5" fill="#c2c2c2"/>
<path d="M304.5,129.1 C305.75,129.08 309.42,129.08 312.00,129.00 C314.58,128.92 317.83,128.82 320.00,128.60 C322.17,128.38 323.40,128.08 325.00,127.70 C326.60,127.32 327.93,126.82 329.60,126.30 C331.27,125.78 333.32,125.13 335.00,124.60 C336.68,124.07 338.03,123.60 339.70,123.10 C341.37,122.60 343.32,122.07 345.00,121.60 C346.68,121.13 348.13,120.75 349.80,120.30 C351.47,119.85 353.38,119.30 355.00,118.90 C356.62,118.50 358.47,118.08 359.50,117.90 C360.53,117.72 360.62,117.67 361.20,117.80 C361.78,117.93 362.28,117.97 363.00,118.70 C363.72,119.43 364.00,121.60 365.50,122.20 C367.00,122.80 369.58,122.30 372.00,122.30 C374.42,122.30 376.17,122.28 380.00,122.20 C383.83,122.12 390.50,121.97 395.00,121.80 C399.50,121.63 402.83,121.60 407.00,121.20 C411.17,120.80 416.03,119.95 420.00,119.40 C423.97,118.85 427.05,118.65 430.80,117.90 C434.55,117.15 439.30,115.77 442.50,114.90 C445.70,114.03 447.02,113.67 450.00,112.70 C452.98,111.73 457.73,110.05 460.40,109.10 C463.07,108.15 464.22,107.67 466.00,107.00 C467.78,106.33 469.60,105.65 471.10,105.10 C472.60,104.55 473.87,104.03 475.00,103.70 C476.13,103.37 476.32,103.20 477.90,103.10 C479.48,103.00 483.40,103.10 484.50,103.10 L484.5,156.6 C483.40,156.60 479.48,156.68 477.90,156.60 C476.32,156.52 476.13,156.38 475.00,156.10 C473.87,155.82 472.60,155.50 471.10,154.90 C469.60,154.30 467.78,153.33 466.00,152.50 C464.22,151.67 463.07,151.10 460.40,149.90 C457.73,148.70 452.98,146.55 450.00,145.30 C447.02,144.05 445.70,143.12 442.50,142.40 C439.30,141.68 434.55,141.40 430.80,141.00 C427.05,140.60 423.97,140.40 420.00,140.00 C416.03,139.60 411.17,138.90 407.00,138.60 C402.83,138.30 399.50,138.30 395.00,138.20 C390.50,138.10 383.83,138.05 380.00,138.00 C376.17,137.95 374.42,137.90 372.00,137.90 C369.58,137.90 367.00,137.47 365.50,138.00 C364.00,138.53 363.72,140.43 363.00,141.10 C362.28,141.77 361.78,141.88 361.20,142.00 C360.62,142.12 360.53,142.07 359.50,141.80 C358.47,141.53 356.62,140.88 355.00,140.40 C353.38,139.92 351.47,139.40 349.80,138.90 C348.13,138.40 346.68,137.90 345.00,137.40 C343.32,136.90 341.37,136.40 339.70,135.90 C338.03,135.40 336.68,134.93 335.00,134.40 C333.32,133.87 331.27,133.22 329.60,132.70 C327.93,132.18 326.60,131.68 325.00,131.30 C323.40,130.92 322.17,130.62 320.00,130.40 C317.83,130.18 314.58,130.08 312.00,130.00 C309.42,129.92 305.75,129.92 304.50,129.90 Z" fill="#2b4a88"/>
<path d="M332,129.5 C332.50,129.25 333.72,128.67 335.00,128.00 C336.28,127.33 338.03,126.18 339.70,125.50 C341.37,124.82 343.32,124.38 345.00,123.90 C346.68,123.42 348.13,123.03 349.80,122.60 C351.47,122.17 353.38,121.68 355.00,121.30 C356.62,120.92 358.47,120.48 359.50,120.30 C360.53,120.12 360.62,120.03 361.20,120.20 C361.78,120.37 362.28,120.58 363.00,121.30 C363.72,122.02 364.00,123.95 365.50,124.50 C367.00,125.05 369.58,124.60 372.00,124.60 C374.42,124.60 376.17,124.58 380.00,124.50 C383.83,124.42 390.50,124.25 395.00,124.10 C399.50,123.95 402.83,124.03 407.00,123.60 C411.17,123.17 416.03,122.05 420.00,121.50 C423.97,120.95 427.05,120.90 430.80,120.30 C434.55,119.70 439.30,118.70 442.50,117.90 C445.70,117.10 447.02,116.52 450.00,115.50 C452.98,114.48 457.73,112.83 460.40,111.80 C463.07,110.77 464.22,110.08 466.00,109.30 C467.78,108.52 469.60,107.73 471.10,107.10 C472.60,106.47 473.87,105.90 475.00,105.50 C476.13,105.10 476.32,104.83 477.90,104.70 C479.48,104.57 483.40,104.70 484.50,104.70 L484.5,154.9 C483.40,154.90 479.48,155.02 477.90,154.90 C476.32,154.78 476.13,154.58 475.00,154.20 C473.87,153.82 472.60,153.30 471.10,152.60 C469.60,151.90 467.78,150.90 466.00,150.00 C464.22,149.10 463.07,148.38 460.40,147.20 C457.73,146.02 452.98,144.08 450.00,142.90 C447.02,141.72 445.70,140.80 442.50,140.10 C439.30,139.40 434.55,139.12 430.80,138.70 C427.05,138.28 423.97,138.02 420.00,137.60 C416.03,137.18 411.17,136.48 407.00,136.20 C402.83,135.92 399.50,135.98 395.00,135.90 C390.50,135.82 383.83,135.78 380.00,135.70 C376.17,135.62 374.42,135.47 372.00,135.40 C369.58,135.33 367.00,134.82 365.50,135.30 C364.00,135.78 363.72,137.63 363.00,138.30 C362.28,138.97 361.78,139.15 361.20,139.30 C360.62,139.45 360.53,139.43 359.50,139.20 C358.47,138.97 356.62,138.35 355.00,137.90 C353.38,137.45 351.47,136.97 349.80,136.50 C348.13,136.03 346.68,135.60 345.00,135.10 C343.32,134.60 341.37,134.18 339.70,133.50 C338.03,132.82 336.28,131.67 335.00,131.00 C333.72,130.33 332.50,129.75 332.00,129.50 Z" fill="#c0062d"/>
<path d="M449.9,129.5 C450.33,129.35 451.65,128.98 452.50,128.60 C453.35,128.22 453.68,128.32 455.00,127.20 C456.32,126.08 458.60,123.68 460.40,121.90 C462.20,120.12 464.02,118.07 465.80,116.50 C467.58,114.93 469.53,113.73 471.10,112.50 C472.67,111.27 474.07,109.88 475.20,109.10 C476.33,108.32 476.35,108.05 477.90,107.80 C479.45,107.55 483.40,107.63 484.50,107.60 L484.5,151.7 C483.40,151.67 479.45,151.67 477.90,151.50 C476.35,151.33 476.33,151.25 475.20,150.70 C474.07,150.15 472.67,149.48 471.10,148.20 C469.53,146.92 467.58,144.80 465.80,143.00 C464.02,141.20 462.20,139.25 460.40,137.40 C458.60,135.55 456.32,133.07 455.00,131.90 C453.68,130.73 453.35,130.80 452.50,130.40 C451.65,130.00 450.33,129.65 449.90,129.50 Z" fill="#70aee6"/>
<circle cx="304" cy="129.5" r="0.9" fill="#1d3566"/>
<text x="303.6" y="125.6" font-size="5.9" text-anchor="start" fill="#222" font-style="italic" textLength="22.6" lengthAdjust="spacingAndGlyphs" stroke="#222" stroke-width="0.1">DNMT3A</text>
<text x="341.8" y="132.1" font-size="5.9" text-anchor="start" fill="#f6e3e8" font-style="italic" textLength="16.8" lengthAdjust="spacingAndGlyphs" stroke="#f6e3e8" stroke-width="0.1">U2AF1</text>
<text x="458.8" y="131.7" font-size="5.8" text-anchor="start" fill="#e2eefb" font-style="italic" textLength="18.2" lengthAdjust="spacingAndGlyphs" stroke="#e2eefb" stroke-width="0.1">PTPN11</text>
<line x1="340" y1="82.5" x2="340" y2="176.3" stroke="#f2f2f2" stroke-width="1.35" stroke-dasharray="3.4 3.1" stroke-dashoffset="2.9"/>
<line x1="360.7" y1="82.5" x2="360.7" y2="176.3" stroke="#050505" stroke-width="1.45" stroke-dasharray="3.4 3.1" stroke-dashoffset="2.9"/>
<line x1="365.5" y1="82.5" x2="365.5" y2="176.3" stroke="#050505" stroke-width="1.45" stroke-dasharray="3.4 3.1" stroke-dashoffset="2.9"/>
<line x1="407.3" y1="82.5" x2="407.3" y2="176.3" stroke="#f2f2f2" stroke-width="1.35" stroke-dasharray="3.4 3.1" stroke-dashoffset="2.9"/>
<line x1="442.5" y1="82.5" x2="442.5" y2="176.3" stroke="#f2f2f2" stroke-width="1.35" stroke-dasharray="3.4 3.1" stroke-dashoffset="2.9"/>
<line x1="477.5" y1="82.5" x2="477.5" y2="176.3" stroke="#050505" stroke-width="1.45" stroke-dasharray="3.4 3.1" stroke-dashoffset="2.9"/>
<rect x="301.5" y="82.2" width="183.0" height="94.5" fill="none" stroke="#0a0a0a" stroke-width="1.55"/>
<line x1="296.5" y1="83.2" x2="296.5" y2="175.3" stroke="#0a0a0a" stroke-width="1.3"/>
<path d="M296.5,81.2 L294.4,85.60000000000001 L298.6,85.60000000000001 Z" fill="#111"/>
<path d="M296.5,177.3 L294.4,172.9 L298.6,172.9 Z" fill="#111"/>
<rect x="292.5" y="117.5" width="8" height="24.8" fill="#fff"/>
<text x="299" y="130" font-size="6.9" text-anchor="middle" fill="#111" transform="rotate(-90 299 130)" >100%</text>
<path d="M332.2,172.8 L331.90000000000003,177.6" fill="none" stroke="#000" stroke-width="1.9"/>
<path d="M331.7,177.2 L330.6,177.2 L330.5,181.6" fill="none" stroke="#000" stroke-width="1.3"/>
<text x="338.5" y="71.5" font-size="6.6" text-anchor="start" fill="#141414" transform="rotate(-45 338.5 71.5)" stroke="#141414" stroke-width="0.2">AL-amyloidosis</text>
<text x="354.7" y="71.5" font-size="6.6" text-anchor="start" fill="#141414" transform="rotate(-45 354.7 71.5)" stroke="#141414" stroke-width="0.2">Thalidomide/Dexa</text>
<text x="366" y="71.5" font-size="6.6" text-anchor="start" fill="#141414" transform="rotate(-45 366 71.5)" stroke="#141414" stroke-width="0.2">G-CSF, apheresis</text>
<text x="380" y="71.5" font-size="6.6" text-anchor="start" fill="#141414" transform="rotate(-45 380 71.5)" stroke="#141414" stroke-width="0.2">Melph/LEN (6x)</text>
<text x="443" y="71.5" font-size="6.6" text-anchor="start" fill="#141414" transform="rotate(-45 443 71.5)" stroke="#141414" stroke-width="0.2">MDS</text>
<text x="478" y="71.5" font-size="6.6" text-anchor="start" fill="#141414" transform="rotate(-45 478 71.5)" stroke="#141414" stroke-width="0.2">AML</text>
<text x="340" y="187.3" font-size="6.9" text-anchor="middle" fill="#1c1c1c" stroke="#1c1c1c" stroke-width="0.16">-0.5</text>
<text x="371.5" y="187.3" font-size="6.9" text-anchor="middle" fill="#1c1c1c" stroke="#1c1c1c" stroke-width="0.16">0</text>
<text x="400" y="187.3" font-size="6.9" text-anchor="middle" fill="#1c1c1c" stroke="#1c1c1c" stroke-width="0.16">0.5</text>
<text x="430.7" y="187.3" font-size="6.9" text-anchor="middle" fill="#1c1c1c" stroke="#1c1c1c" stroke-width="0.16">1</text>
<text x="460.7" y="187.3" font-size="6.9" text-anchor="middle" fill="#1c1c1c" stroke="#1c1c1c" stroke-width="0.16">1.5</text>
<rect x="301.5" y="193.8" width="183.0" height="61.599999999999994" fill="#c2c2c2"/>
<rect x="338.5" y="193.8" width="5.4" height="61.599999999999994" fill="#c3cddd"/>
<rect x="343.8" y="193.8" width="18.6" height="61.599999999999994" fill="#b7d4f1"/>
<rect x="362.4" y="193.8" width="2.6" height="61.599999999999994" fill="#c4cad4"/>
<rect x="365" y="193.8" width="2.6" height="61.599999999999994" fill="#d0cac5"/>
<rect x="367.6" y="193.8" width="25.7" height="61.599999999999994" fill="#b7d4f1"/>
<line x1="338" y1="193.8" x2="338" y2="255.4" stroke="#0a0a0a" stroke-width="1.6"/>
<line x1="442.5" y1="193.8" x2="442.5" y2="255.4" stroke="#0a0a0a" stroke-width="1.3"/>
<line x1="477.5" y1="193.8" x2="477.5" y2="255.4" stroke="#0a0a0a" stroke-width="1.3"/>
<polyline points="338,233 343.7,227 350.5,231.2 358.7,227.5 363.7,228 366.2,223.7 368,228.7 373.7,234.5 377.5,236.2 384.2,223.7 388.7,225 395,223.2 402.5,221.2 407.5,226.2 419.5,237.5 435,237 443.7,232 450,230.7 464.2,220.7" fill="none" stroke="#6db34a" stroke-width="1.15" stroke-linejoin="round" stroke-linecap="round"/>
<path d="M337.20,233.00a0.8,0.8 0 1,0 1.6,0a0.8,0.8 0 1,0 -1.6,0M342.90,227.00a0.8,0.8 0 1,0 1.6,0a0.8,0.8 0 1,0 -1.6,0M349.70,231.20a0.8,0.8 0 1,0 1.6,0a0.8,0.8 0 1,0 -1.6,0M357.90,227.50a0.8,0.8 0 1,0 1.6,0a0.8,0.8 0 1,0 -1.6,0M362.90,228.00a0.8,0.8 0 1,0 1.6,0a0.8,0.8 0 1,0 -1.6,0M365.40,223.70a0.8,0.8 0 1,0 1.6,0a0.8,0.8 0 1,0 -1.6,0M367.20,228.70a0.8,0.8 0 1,0 1.6,0a0.8,0.8 0 1,0 -1.6,0M372.90,234.50a0.8,0.8 0 1,0 1.6,0a0.8,0.8 0 1,0 -1.6,0M376.70,236.20a0.8,0.8 0 1,0 1.6,0a0.8,0.8 0 1,0 -1.6,0M383.40,223.70a0.8,0.8 0 1,0 1.6,0a0.8,0.8 0 1,0 -1.6,0M387.90,225.00a0.8,0.8 0 1,0 1.6,0a0.8,0.8 0 1,0 -1.6,0M394.20,223.20a0.8,0.8 0 1,0 1.6,0a0.8,0.8 0 1,0 -1.6,0M401.70,221.20a0.8,0.8 0 1,0 1.6,0a0.8,0.8 0 1,0 -1.6,0M406.70,226.20a0.8,0.8 0 1,0 1.6,0a0.8,0.8 0 1,0 -1.6,0M418.70,237.50a0.8,0.8 0 1,0 1.6,0a0.8,0.8 0 1,0 -1.6,0M434.20,237.00a0.8,0.8 0 1,0 1.6,0a0.8,0.8 0 1,0 -1.6,0M442.90,232.00a0.8,0.8 0 1,0 1.6,0a0.8,0.8 0 1,0 -1.6,0M449.20,230.70a0.8,0.8 0 1,0 1.6,0a0.8,0.8 0 1,0 -1.6,0M463.40,220.70a0.8,0.8 0 1,0 1.6,0a0.8,0.8 0 1,0 -1.6,0" fill="#5aa23a"/>
<polyline points="338,218.7 342,217.5 345,222.5 350.5,213.7 356.2,216.2 362.5,218 368,222.5 377.5,219.5 382.5,221.2 388.7,225.7 390,225 403.7,221.2 408,223.7 419.5,222.5 435,223 449.2,220 464.2,220 477.5,233.7" fill="none" stroke="#b30533" stroke-width="1.3" stroke-linejoin="round" stroke-linecap="round"/>
<path d="M337.00,218.70a1.0,1.0 0 1,0 2.0,0a1.0,1.0 0 1,0 -2.0,0M341.00,217.50a1.0,1.0 0 1,0 2.0,0a1.0,1.0 0 1,0 -2.0,0M344.00,222.50a1.0,1.0 0 1,0 2.0,0a1.0,1.0 0 1,0 -2.0,0M349.50,213.70a1.0,1.0 0 1,0 2.0,0a1.0,1.0 0 1,0 -2.0,0M355.20,216.20a1.0,1.0 0 1,0 2.0,0a1.0,1.0 0 1,0 -2.0,0M361.50,218.00a1.0,1.0 0 1,0 2.0,0a1.0,1.0 0 1,0 -2.0,0M367.00,222.50a1.0,1.0 0 1,0 2.0,0a1.0,1.0 0 1,0 -2.0,0M376.50,219.50a1.0,1.0 0 1,0 2.0,0a1.0,1.0 0 1,0 -2.0,0M381.50,221.20a1.0,1.0 0 1,0 2.0,0a1.0,1.0 0 1,0 -2.0,0M387.70,225.70a1.0,1.0 0 1,0 2.0,0a1.0,1.0 0 1,0 -2.0,0M389.00,225.00a1.0,1.0 0 1,0 2.0,0a1.0,1.0 0 1,0 -2.0,0M402.70,221.20a1.0,1.0 0 1,0 2.0,0a1.0,1.0 0 1,0 -2.0,0M407.00,223.70a1.0,1.0 0 1,0 2.0,0a1.0,1.0 0 1,0 -2.0,0M418.50,222.50a1.0,1.0 0 1,0 2.0,0a1.0,1.0 0 1,0 -2.0,0M434.00,223.00a1.0,1.0 0 1,0 2.0,0a1.0,1.0 0 1,0 -2.0,0M448.20,220.00a1.0,1.0 0 1,0 2.0,0a1.0,1.0 0 1,0 -2.0,0M463.20,220.00a1.0,1.0 0 1,0 2.0,0a1.0,1.0 0 1,0 -2.0,0M476.50,233.70a1.0,1.0 0 1,0 2.0,0a1.0,1.0 0 1,0 -2.0,0" fill="#8f0028"/>
<rect x="301.5" y="193.8" width="183.0" height="61.599999999999994" fill="none" stroke="#0a0a0a" stroke-width="1.5"/>
<line x1="298.3" y1="193.8" x2="301.5" y2="193.8" stroke="#111" stroke-width="1.1"/>
<text x="295.9" y="196.10000000000002" font-size="6.8" text-anchor="end" fill="#1c1c1c" stroke="#1c1c1c" stroke-width="0.16">120</text>
<line x1="298.3" y1="209.2" x2="301.5" y2="209.2" stroke="#111" stroke-width="1.1"/>
<text x="295.9" y="211.5" font-size="6.8" text-anchor="end" fill="#1c1c1c" stroke="#1c1c1c" stroke-width="0.16">110</text>
<line x1="298.3" y1="224.6" x2="301.5" y2="224.6" stroke="#111" stroke-width="1.1"/>
<text x="295.9" y="226.9" font-size="6.8" text-anchor="end" fill="#1c1c1c" stroke="#1c1c1c" stroke-width="0.16">100</text>
<line x1="298.3" y1="240" x2="301.5" y2="240" stroke="#111" stroke-width="1.1"/>
<text x="295.9" y="242.3" font-size="6.8" text-anchor="end" fill="#1c1c1c" stroke="#1c1c1c" stroke-width="0.16">90</text>
<line x1="298.3" y1="255.4" x2="301.5" y2="255.4" stroke="#111" stroke-width="1.1"/>
<text x="295.9" y="257.7" font-size="6.8" text-anchor="end" fill="#1c1c1c" stroke="#1c1c1c" stroke-width="0.16">80</text>
<line x1="484.5" y1="193.8" x2="487.7" y2="193.8" stroke="#111" stroke-width="1.1"/>
<text x="489.5" y="196.10000000000002" font-size="7" text-anchor="start" fill="#1c1c1c" stroke="#1c1c1c" stroke-width="0.16">20</text>
<line x1="484.5" y1="209.2" x2="487.7" y2="209.2" stroke="#111" stroke-width="1.1"/>
<text x="489.5" y="211.5" font-size="7" text-anchor="start" fill="#1c1c1c" stroke="#1c1c1c" stroke-width="0.16">15</text>
<line x1="484.5" y1="224.6" x2="487.7" y2="224.6" stroke="#111" stroke-width="1.1"/>
<text x="489.5" y="226.9" font-size="7" text-anchor="start" fill="#1c1c1c" stroke="#1c1c1c" stroke-width="0.16">10</text>
<line x1="484.5" y1="240" x2="487.7" y2="240" stroke="#111" stroke-width="1.1"/>
<text x="489.5" y="242.3" font-size="7" text-anchor="start" fill="#1c1c1c" stroke="#1c1c1c" stroke-width="0.16">5</text>
<line x1="484.5" y1="255.4" x2="487.7" y2="255.4" stroke="#111" stroke-width="1.1"/>
<text x="489.5" y="257.7" font-size="7" text-anchor="start" fill="#1c1c1c" stroke="#1c1c1c" stroke-width="0.16">0</text>
<path d="M332.2,251.4 L331.90000000000003,256.2" fill="none" stroke="#000" stroke-width="1.9"/>
<path d="M331.7,255.79999999999998 L330.6,255.79999999999998 L330.5,260.2" fill="none" stroke="#000" stroke-width="1.3"/>
<text x="340" y="265.7" font-size="6.9" text-anchor="middle" fill="#1c1c1c" stroke="#1c1c1c" stroke-width="0.16">-0.5</text>
<text x="371.5" y="265.7" font-size="6.9" text-anchor="middle" fill="#1c1c1c" stroke="#1c1c1c" stroke-width="0.16">0</text>
<text x="400" y="265.7" font-size="6.9" text-anchor="middle" fill="#1c1c1c" stroke="#1c1c1c" stroke-width="0.16">0.5</text>
<text x="430.7" y="265.7" font-size="6.9" text-anchor="middle" fill="#1c1c1c" stroke="#1c1c1c" stroke-width="0.16">1</text>
<text x="460.7" y="265.7" font-size="6.9" text-anchor="middle" fill="#1c1c1c" stroke="#1c1c1c" stroke-width="0.16">1.5</text>
<text x="277.2" y="224.5" font-size="8.2" text-anchor="middle" fill="#1a1a1a" transform="rotate(-90 277.2 224.5)" textLength="24.8" lengthAdjust="spacingAndGlyphs" stroke="#1a1a1a" stroke-width="0.22">MCV (fl)</text>
<text x="505.8" y="225" font-size="8.3" text-anchor="middle" fill="#1a1a1a" transform="rotate(90 505.8 225)" textLength="58.8" lengthAdjust="spacingAndGlyphs" stroke="#1a1a1a" stroke-width="0.22">Hemoglobin (g/dL)</text>
<text x="393.5" y="279.2" font-size="8.9" text-anchor="middle" fill="#1a1a1a" textLength="82" lengthAdjust="spacingAndGlyphs" stroke="#1a1a1a" stroke-width="0.22">Years after PBSC apheresis</text>
<line x1="382.5" y1="199.6" x2="393.7" y2="199.6" stroke="#b30533" stroke-width="1.5"/>
<rect x="386.8" y="198.4" width="2.4" height="2.4" fill="#8f0028"/>
<line x1="382.5" y1="207.8" x2="393.7" y2="207.8" stroke="#6db34a" stroke-width="1.4"/>
<rect x="387" y="206.8" width="2" height="2" fill="#5aa23a"/>
<text x="397" y="201.7" font-size="6.1" text-anchor="start" fill="#10182c" textLength="30.6" lengthAdjust="spacingAndGlyphs" stroke="#10182c" stroke-width="0.15">Hemoglobin</text>
<text x="397" y="209.8" font-size="6.1" text-anchor="start" fill="#10182c" textLength="12.4" lengthAdjust="spacingAndGlyphs" stroke="#10182c" stroke-width="0.15">MCV</text>
<rect x="40.5" y="354.5" width="183.0" height="5" fill="#fff"/>
<rect x="51.5" y="354.5" width="12" height="5" fill="#e4e9f1"/>
<rect x="40.5" y="354.5" width="183.0" height="5" fill="none" stroke="#0a0a0a" stroke-width="1.4"/>
<line x1="51" y1="354.5" x2="51" y2="359.5" stroke="#111" stroke-width="1"/>
<line x1="206.6" y1="354.5" x2="206.6" y2="359.5" stroke="#111" stroke-width="1"/>
<line x1="218.4" y1="354.5" x2="218.4" y2="359.5" stroke="#111" stroke-width="1"/>
<rect x="40.5" y="359.5" width="183.0" height="2.4" fill="#d2d2d2"/>
<rect x="40.5" y="361.7" width="183.0" height="95.4" fill="#c2c2c2"/>
<path d="M102,409.2 C103.83,409.18 108.58,409.22 113.00,409.10 C117.42,408.98 123.37,408.76 128.50,408.50 C133.63,408.24 140.22,407.85 143.80,407.55 C147.38,407.25 147.43,407.04 150.00,406.70 C152.57,406.36 156.87,405.88 159.20,405.50 C161.53,405.12 162.38,404.78 164.00,404.40 C165.62,404.02 167.45,403.67 168.90,403.20 C170.35,402.73 171.43,402.23 172.70,401.60 C173.97,400.97 175.25,400.32 176.50,399.40 C177.75,398.48 178.95,397.35 180.20,396.10 C181.45,394.85 182.73,393.42 184.00,391.90 C185.27,390.38 186.53,388.73 187.80,387.00 C189.07,385.27 190.48,383.13 191.60,381.50 C192.72,379.87 193.55,378.52 194.50,377.20 C195.45,375.88 196.43,374.67 197.30,373.60 C198.17,372.53 198.92,371.68 199.70,370.80 C200.48,369.92 201.23,369.02 202.00,368.30 C202.77,367.58 203.52,367.02 204.30,366.50 C205.08,365.98 205.75,365.53 206.70,365.20 C207.65,364.87 208.73,364.67 210.00,364.50 C211.27,364.33 212.05,364.25 214.30,364.20 C216.55,364.15 221.97,364.20 223.50,364.20 L223.5,453.3 C221.97,453.30 216.55,453.32 214.30,453.30 C212.05,453.28 211.27,453.27 210.00,453.20 C208.73,453.13 207.65,453.18 206.70,452.90 C205.75,452.62 205.08,452.07 204.30,451.50 C203.52,450.93 202.77,450.28 202.00,449.50 C201.23,448.72 200.48,447.75 199.70,446.80 C198.92,445.85 198.17,445.00 197.30,443.80 C196.43,442.60 195.45,441.02 194.50,439.60 C193.55,438.18 192.72,436.85 191.60,435.30 C190.48,433.75 189.07,431.87 187.80,430.30 C186.53,428.73 185.27,427.25 184.00,425.90 C182.73,424.55 181.45,423.30 180.20,422.20 C178.95,421.10 177.75,420.17 176.50,419.30 C175.25,418.43 173.97,417.70 172.70,417.00 C171.43,416.30 170.35,415.55 168.90,415.10 C167.45,414.65 165.62,414.58 164.00,414.30 C162.38,414.02 161.53,413.73 159.20,413.40 C156.87,413.07 152.57,412.56 150.00,412.30 C147.43,412.04 147.38,412.08 143.80,411.85 C140.22,411.62 133.63,411.16 128.50,410.90 C123.37,410.64 117.42,410.42 113.00,410.30 C108.58,410.18 103.83,410.22 102.00,410.20 Z" fill="#2b4a88"/>
<path d="M209.5,409.2 L212.5,401.9 L215,395.5 L217.3,389.7 L218.2,388.9 L223.5,388.8 L223.5,429.8 L218.2,429.7 L217.3,428.9 L215,422.9 L212.5,416.5 L209.5,409.2 Z" fill="#c0062d"/>
<circle cx="102" cy="409.7" r="1.0" fill="#2a2f3a"/>
<text x="161.6" y="411.9" font-size="5.4" text-anchor="start" fill="#e3eaf6" font-weight="bold" font-style="italic" >TP53</text>
<line x1="58" y1="362.0" x2="58" y2="456.3" stroke="#050505" stroke-width="1.45" stroke-dasharray="3.4 3.1" stroke-dashoffset="2.9"/>
<line x1="61.3" y1="362.0" x2="61.3" y2="456.3" stroke="#050505" stroke-width="1.45" stroke-dasharray="3.4 3.1" stroke-dashoffset="2.9"/>
<line x1="206.4" y1="362.0" x2="206.4" y2="456.3" stroke="#f2f2f2" stroke-width="1.35" stroke-dasharray="3.4 3.1" stroke-dashoffset="2.9"/>
<line x1="218.7" y1="362.0" x2="218.7" y2="456.3" stroke="#050505" stroke-width="1.45" stroke-dasharray="3.4 3.1" stroke-dashoffset="2.9"/>
<rect x="40.5" y="361.7" width="183.0" height="95.4" fill="none" stroke="#0a0a0a" stroke-width="1.55"/>
<line x1="35.3" y1="363.5" x2="35.3" y2="455.6" stroke="#0a0a0a" stroke-width="1.3"/>
<path d="M35.3,361.5 L33.199999999999996,365.9 L37.4,365.9 Z" fill="#111"/>
<path d="M35.3,457.6 L33.199999999999996,453.20000000000005 L37.4,453.20000000000005 Z" fill="#111"/>
<rect x="31" y="397.5" width="8" height="24.8" fill="#fff"/>
<text x="37.6" y="410" font-size="6.9" text-anchor="middle" fill="#111" transform="rotate(-90 37.6 410)" >100%</text>
<path d="M46.4,453.0 L46.1,457.8" fill="none" stroke="#000" stroke-width="1.9"/>
<path d="M45.9,457.4 L44.8,457.4 L44.7,461.8" fill="none" stroke="#000" stroke-width="1.3"/>
<text x="52" y="351.5" font-size="6.6" text-anchor="start" fill="#141414" transform="rotate(-45 52 351.5)" stroke="#141414" stroke-width="0.2">AL-amyloidosis</text>
<text x="62.5" y="351.5" font-size="6.6" text-anchor="start" fill="#141414" transform="rotate(-45 62.5 351.5)" stroke="#141414" stroke-width="0.2">VAD (3x), CP</text>
<text x="74" y="351.5" font-size="6.6" text-anchor="start" fill="#141414" transform="rotate(-45 74 351.5)" stroke="#141414" stroke-width="0.2">HDM + ASCT</text>
<text x="205.3" y="350.5" font-size="6.6" text-anchor="start" fill="#141414" transform="rotate(-45 205.3 350.5)" stroke="#141414" stroke-width="0.2">MDS</text>
<text x="218.4" y="350.8" font-size="6.6" text-anchor="start" fill="#141414" transform="rotate(-45 218.4 350.8)" stroke="#141414" stroke-width="0.2">AML</text>
<text x="65.5" y="467.0" font-size="6.9" text-anchor="middle" fill="#1c1c1c" stroke="#1c1c1c" stroke-width="0.16">0</text>
<text x="88" y="467.0" font-size="6.9" text-anchor="middle" fill="#1c1c1c" stroke="#1c1c1c" stroke-width="0.16">1</text>
<text x="110.5" y="467.0" font-size="6.9" text-anchor="middle" fill="#1c1c1c" stroke="#1c1c1c" stroke-width="0.16">2</text>
<text x="133" y="467.0" font-size="6.9" text-anchor="middle" fill="#1c1c1c" stroke="#1c1c1c" stroke-width="0.16">3</text>
<text x="155.7" y="467.0" font-size="6.9" text-anchor="middle" fill="#1c1c1c" stroke="#1c1c1c" stroke-width="0.16">4</text>
<text x="178.2" y="467.0" font-size="6.9" text-anchor="middle" fill="#1c1c1c" stroke="#1c1c1c" stroke-width="0.16">5</text>
<text x="200.9" y="467.0" font-size="6.9" text-anchor="middle" fill="#1c1c1c" stroke="#1c1c1c" stroke-width="0.16">6</text>
<text x="223.1" y="467.0" font-size="6.9" text-anchor="middle" fill="#1c1c1c" stroke="#1c1c1c" stroke-width="0.16">7</text>
<rect x="40.5" y="472.8" width="183.0" height="61.69999999999999" fill="#c2c2c2"/>
<rect x="51" y="472.8" width="12.9" height="61.69999999999999" fill="#bed2ea"/>
<rect x="57.3" y="472.8" width="4" height="61.69999999999999" fill="#b5c8e0"/>
<line x1="51" y1="472.8" x2="51" y2="534.5" stroke="#0a0a0a" stroke-width="1.7"/>
<line x1="206.9" y1="472.8" x2="206.9" y2="534.5" stroke="#0a0a0a" stroke-width="1.25"/>
<line x1="218.7" y1="472.8" x2="218.7" y2="534.5" stroke="#0a0a0a" stroke-width="1.25"/>
<polyline points="49.4,511 56.25,510.75 60,504.75 61.9,502.9 63.75,511 65.6,516 67.5,513.5 70,502.25 78.75,489.75 80.6,491 87.5,489.1 98.75,489.75 103.75,490.4 108.1,488.9 113.75,491.6 121.25,493.5 195,516.6 197.5,521 200.6,526.6 202.5,520.4 204.4,521.6 206.9,525.4 210,523.5 213.75,522.25 216.25,519.1 219,512.25" fill="none" stroke="#6db34a" stroke-width="1.15" stroke-linejoin="round" stroke-linecap="round"/>
<path d="M48.60,511.00a0.8,0.8 0 1,0 1.6,0a0.8,0.8 0 1,0 -1.6,0M55.45,510.75a0.8,0.8 0 1,0 1.6,0a0.8,0.8 0 1,0 -1.6,0M59.20,504.75a0.8,0.8 0 1,0 1.6,0a0.8,0.8 0 1,0 -1.6,0M61.10,502.90a0.8,0.8 0 1,0 1.6,0a0.8,0.8 0 1,0 -1.6,0M62.95,511.00a0.8,0.8 0 1,0 1.6,0a0.8,0.8 0 1,0 -1.6,0M64.80,516.00a0.8,0.8 0 1,0 1.6,0a0.8,0.8 0 1,0 -1.6,0M66.70,513.50a0.8,0.8 0 1,0 1.6,0a0.8,0.8 0 1,0 -1.6,0M69.20,502.25a0.8,0.8 0 1,0 1.6,0a0.8,0.8 0 1,0 -1.6,0M77.95,489.75a0.8,0.8 0 1,0 1.6,0a0.8,0.8 0 1,0 -1.6,0M79.80,491.00a0.8,0.8 0 1,0 1.6,0a0.8,0.8 0 1,0 -1.6,0M86.70,489.10a0.8,0.8 0 1,0 1.6,0a0.8,0.8 0 1,0 -1.6,0M97.95,489.75a0.8,0.8 0 1,0 1.6,0a0.8,0.8 0 1,0 -1.6,0M102.95,490.40a0.8,0.8 0 1,0 1.6,0a0.8,0.8 0 1,0 -1.6,0M107.30,488.90a0.8,0.8 0 1,0 1.6,0a0.8,0.8 0 1,0 -1.6,0M112.95,491.60a0.8,0.8 0 1,0 1.6,0a0.8,0.8 0 1,0 -1.6,0M120.45,493.50a0.8,0.8 0 1,0 1.6,0a0.8,0.8 0 1,0 -1.6,0M194.20,516.60a0.8,0.8 0 1,0 1.6,0a0.8,0.8 0 1,0 -1.6,0M196.70,521.00a0.8,0.8 0 1,0 1.6,0a0.8,0.8 0 1,0 -1.6,0M199.80,526.60a0.8,0.8 0 1,0 1.6,0a0.8,0.8 0 1,0 -1.6,0M201.70,520.40a0.8,0.8 0 1,0 1.6,0a0.8,0.8 0 1,0 -1.6,0M203.60,521.60a0.8,0.8 0 1,0 1.6,0a0.8,0.8 0 1,0 -1.6,0M206.10,525.40a0.8,0.8 0 1,0 1.6,0a0.8,0.8 0 1,0 -1.6,0M209.20,523.50a0.8,0.8 0 1,0 1.6,0a0.8,0.8 0 1,0 -1.6,0M212.95,522.25a0.8,0.8 0 1,0 1.6,0a0.8,0.8 0 1,0 -1.6,0M215.45,519.10a0.8,0.8 0 1,0 1.6,0a0.8,0.8 0 1,0 -1.6,0M218.20,512.25a0.8,0.8 0 1,0 1.6,0a0.8,0.8 0 1,0 -1.6,0" fill="#5aa23a"/>
<polyline points="50,486 51.25,484.1 52.5,487.25 53.5,484.1 54.4,487.25 56.25,493.5 56.8,496.5 57.5,494.5 58.1,499 58.8,496.5 59.4,500.5 60,501 60.3,498.5 60.6,502 61.25,497.25 62.1,493 62.9,490.4 63.3,493.5 63.6,492 64,496.5 64.4,495 64.8,500 65.2,498.5 65.6,504 66,502 66.4,508 66.9,506.5 67.2,510.5 67.7,507 68.1,509 68.8,505.5 70,508.5 70.6,505.5 71.25,504.75 75.6,501.6 78.75,497.9 80.6,501 84.4,501.6 88.1,500.4 91.9,498.5 95,499.1 98.75,499.75 103.75,497.25 107.5,499.75 111.9,500.4 116.9,494.75 121.25,494.1 126.25,492.9 133.75,493.5 142.5,490.75 150,491.6 153.75,492.5 162.5,492.5 170.6,492.5 178.1,491.6 186.25,494.75 190,495.4 193.75,495.4 196.25,497.25 198.1,502.25 199,505 199.75,507.25 200.2,510 200.6,512.25 201.2,508 201.9,504.75 202.5,507.5 203.1,501 203.7,506 204.4,509.75 205,506 205.6,504.1 206.2,507.5 206.9,508.5 207.5,504 208.1,501.6 208.7,506.5 209.4,509.75 210,506 210.6,504.1 211.5,507 212.5,506 213.1,511 213.75,516 214.1,511.5 214.4,507 215,501 215.6,505 216.25,507.25 216.9,504.5 217.5,510.4 218.2,505 219,501.6 219.5,506 220,508.5" fill="none" stroke="#b30533" stroke-width="1.5" stroke-linejoin="round" stroke-linecap="round"/>
<path d="M48.80,486.00a1.2,1.2 0 1,0 2.4,0a1.2,1.2 0 1,0 -2.4,0M50.05,484.10a1.2,1.2 0 1,0 2.4,0a1.2,1.2 0 1,0 -2.4,0M51.30,487.25a1.2,1.2 0 1,0 2.4,0a1.2,1.2 0 1,0 -2.4,0M52.30,484.10a1.2,1.2 0 1,0 2.4,0a1.2,1.2 0 1,0 -2.4,0M53.20,487.25a1.2,1.2 0 1,0 2.4,0a1.2,1.2 0 1,0 -2.4,0M55.05,493.50a1.2,1.2 0 1,0 2.4,0a1.2,1.2 0 1,0 -2.4,0M55.60,496.50a1.2,1.2 0 1,0 2.4,0a1.2,1.2 0 1,0 -2.4,0M56.30,494.50a1.2,1.2 0 1,0 2.4,0a1.2,1.2 0 1,0 -2.4,0M56.90,499.00a1.2,1.2 0 1,0 2.4,0a1.2,1.2 0 1,0 -2.4,0M57.60,496.50a1.2,1.2 0 1,0 2.4,0a1.2,1.2 0 1,0 -2.4,0M58.20,500.50a1.2,1.2 0 1,0 2.4,0a1.2,1.2 0 1,0 -2.4,0M58.80,501.00a1.2,1.2 0 1,0 2.4,0a1.2,1.2 0 1,0 -2.4,0M59.10,498.50a1.2,1.2 0 1,0 2.4,0a1.2,1.2 0 1,0 -2.4,0M59.40,502.00a1.2,1.2 0 1,0 2.4,0a1.2,1.2 0 1,0 -2.4,0M60.05,497.25a1.2,1.2 0 1,0 2.4,0a1.2,1.2 0 1,0 -2.4,0M60.90,493.00a1.2,1.2 0 1,0 2.4,0a1.2,1.2 0 1,0 -2.4,0M61.70,490.40a1.2,1.2 0 1,0 2.4,0a1.2,1.2 0 1,0 -2.4,0M62.10,493.50a1.2,1.2 0 1,0 2.4,0a1.2,1.2 0 1,0 -2.4,0M62.40,492.00a1.2,1.2 0 1,0 2.4,0a1.2,1.2 0 1,0 -2.4,0M62.80,496.50a1.2,1.2 0 1,0 2.4,0a1.2,1.2 0 1,0 -2.4,0M63.20,495.00a1.2,1.2 0 1,0 2.4,0a1.2,1.2 0 1,0 -2.4,0M63.60,500.00a1.2,1.2 0 1,0 2.4,0a1.2,1.2 0 1,0 -2.4,0M64.00,498.50a1.2,1.2 0 1,0 2.4,0a1.2,1.2 0 1,0 -2.4,0M64.40,504.00a1.2,1.2 0 1,0 2.4,0a1.2,1.2 0 1,0 -2.4,0M64.80,502.00a1.2,1.2 0 1,0 2.4,0a1.2,1.2 0 1,0 -2.4,0M65.20,508.00a1.2,1.2 0 1,0 2.4,0a1.2,1.2 0 1,0 -2.4,0M65.70,506.50a1.2,1.2 0 1,0 2.4,0a1.2,1.2 0 1,0 -2.4,0M66.00,510.50a1.2,1.2 0 1,0 2.4,0a1.2,1.2 0 1,0 -2.4,0M66.50,507.00a1.2,1.2 0 1,0 2.4,0a1.2,1.2 0 1,0 -2.4,0M66.90,509.00a1.2,1.2 0 1,0 2.4,0a1.2,1.2 0 1,0 -2.4,0M67.60,505.50a1.2,1.2 0 1,0 2.4,0a1.2,1.2 0 1,0 -2.4,0M68.80,508.50a1.2,1.2 0 1,0 2.4,0a1.2,1.2 0 1,0 -2.4,0M69.40,505.50a1.2,1.2 0 1,0 2.4,0a1.2,1.2 0 1,0 -2.4,0M70.05,504.75a1.2,1.2 0 1,0 2.4,0a1.2,1.2 0 1,0 -2.4,0M74.40,501.60a1.2,1.2 0 1,0 2.4,0a1.2,1.2 0 1,0 -2.4,0M77.55,497.90a1.2,1.2 0 1,0 2.4,0a1.2,1.2 0 1,0 -2.4,0M79.40,501.00a1.2,1.2 0 1,0 2.4,0a1.2,1.2 0 1,0 -2.4,0M83.20,501.60a1.2,1.2 0 1,0 2.4,0a1.2,1.2 0 1,0 -2.4,0M86.90,500.40a1.2,1.2 0 1,0 2.4,0a1.2,1.2 0 1,0 -2.4,0M90.70,498.50a1.2,1.2 0 1,0 2.4,0a1.2,1.2 0 1,0 -2.4,0M93.80,499.10a1.2,1.2 0 1,0 2.4,0a1.2,1.2 0 1,0 -2.4,0M97.55,499.75a1.2,1.2 0 1,0 2.4,0a1.2,1.2 0 1,0 -2.4,0M102.55,497.25a1.2,1.2 0 1,0 2.4,0a1.2,1.2 0 1,0 -2.4,0M106.30,499.75a1.2,1.2 0 1,0 2.4,0a1.2,1.2 0 1,0 -2.4,0M110.70,500.40a1.2,1.2 0 1,0 2.4,0a1.2,1.2 0 1,0 -2.4,0M115.70,494.75a1.2,1.2 0 1,0 2.4,0a1.2,1.2 0 1,0 -2.4,0M120.05,494.10a1.2,1.2 0 1,0 2.4,0a1.2,1.2 0 1,0 -2.4,0M125.05,492.90a1.2,1.2 0 1,0 2.4,0a1.2,1.2 0 1,0 -2.4,0M132.55,493.50a1.2,1.2 0 1,0 2.4,0a1.2,1.2 0 1,0 -2.4,0M141.30,490.75a1.2,1.2 0 1,0 2.4,0a1.2,1.2 0 1,0 -2.4,0M148.80,491.60a1.2,1.2 0 1,0 2.4,0a1.2,1.2 0 1,0 -2.4,0M152.55,492.50a1.2,1.2 0 1,0 2.4,0a1.2,1.2 0 1,0 -2.4,0M161.30,492.50a1.2,1.2 0 1,0 2.4,0a1.2,1.2 0 1,0 -2.4,0M169.40,492.50a1.2,1.2 0 1,0 2.4,0a1.2,1.2 0 1,0 -2.4,0M176.90,491.60a1.2,1.2 0 1,0 2.4,0a1.2,1.2 0 1,0 -2.4,0M185.05,494.75a1.2,1.2 0 1,0 2.4,0a1.2,1.2 0 1,0 -2.4,0M188.80,495.40a1.2,1.2 0 1,0 2.4,0a1.2,1.2 0 1,0 -2.4,0M192.55,495.40a1.2,1.2 0 1,0 2.4,0a1.2,1.2 0 1,0 -2.4,0M195.05,497.25a1.2,1.2 0 1,0 2.4,0a1.2,1.2 0 1,0 -2.4,0M196.90,502.25a1.2,1.2 0 1,0 2.4,0a1.2,1.2 0 1,0 -2.4,0M197.80,505.00a1.2,1.2 0 1,0 2.4,0a1.2,1.2 0 1,0 -2.4,0M198.55,507.25a1.2,1.2 0 1,0 2.4,0a1.2,1.2 0 1,0 -2.4,0M199.00,510.00a1.2,1.2 0 1,0 2.4,0a1.2,1.2 0 1,0 -2.4,0M199.40,512.25a1.2,1.2 0 1,0 2.4,0a1.2,1.2 0 1,0 -2.4,0M200.00,508.00a1.2,1.2 0 1,0 2.4,0a1.2,1.2 0 1,0 -2.4,0M200.70,504.75a1.2,1.2 0 1,0 2.4,0a1.2,1.2 0 1,0 -2.4,0M201.30,507.50a1.2,1.2 0 1,0 2.4,0a1.2,1.2 0 1,0 -2.4,0M201.90,501.00a1.2,1.2 0 1,0 2.4,0a1.2,1.2 0 1,0 -2.4,0M202.50,506.00a1.2,1.2 0 1,0 2.4,0a1.2,1.2 0 1,0 -2.4,0M203.20,509.75a1.2,1.2 0 1,0 2.4,0a1.2,1.2 0 1,0 -2.4,0M203.80,506.00a1.2,1.2 0 1,0 2.4,0a1.2,1.2 0 1,0 -2.4,0M204.40,504.10a1.2,1.2 0 1,0 2.4,0a1.2,1.2 0 1,0 -2.4,0M205.00,507.50a1.2,1.2 0 1,0 2.4,0a1.2,1.2 0 1,0 -2.4,0M205.70,508.50a1.2,1.2 0 1,0 2.4,0a1.2,1.2 0 1,0 -2.4,0M206.30,504.00a1.2,1.2 0 1,0 2.4,0a1.2,1.2 0 1,0 -2.4,0M206.90,501.60a1.2,1.2 0 1,0 2.4,0a1.2,1.2 0 1,0 -2.4,0M207.50,506.50a1.2,1.2 0 1,0 2.4,0a1.2,1.2 0 1,0 -2.4,0M208.20,509.75a1.2,1.2 0 1,0 2.4,0a1.2,1.2 0 1,0 -2.4,0M208.80,506.00a1.2,1.2 0 1,0 2.4,0a1.2,1.2 0 1,0 -2.4,0M209.40,504.10a1.2,1.2 0 1,0 2.4,0a1.2,1.2 0 1,0 -2.4,0M210.30,507.00a1.2,1.2 0 1,0 2.4,0a1.2,1.2 0 1,0 -2.4,0M211.30,506.00a1.2,1.2 0 1,0 2.4,0a1.2,1.2 0 1,0 -2.4,0M211.90,511.00a1.2,1.2 0 1,0 2.4,0a1.2,1.2 0 1,0 -2.4,0M212.55,516.00a1.2,1.2 0 1,0 2.4,0a1.2,1.2 0 1,0 -2.4,0M212.90,511.50a1.2,1.2 0 1,0 2.4,0a1.2,1.2 0 1,0 -2.4,0M213.20,507.00a1.2,1.2 0 1,0 2.4,0a1.2,1.2 0 1,0 -2.4,0M213.80,501.00a1.2,1.2 0 1,0 2.4,0a1.2,1.2 0 1,0 -2.4,0M214.40,505.00a1.2,1.2 0 1,0 2.4,0a1.2,1.2 0 1,0 -2.4,0M215.05,507.25a1.2,1.2 0 1,0 2.4,0a1.2,1.2 0 1,0 -2.4,0M215.70,504.50a1.2,1.2 0 1,0 2.4,0a1.2,1.2 0 1,0 -2.4,0M216.30,510.40a1.2,1.2 0 1,0 2.4,0a1.2,1.2 0 1,0 -2.4,0M217.00,505.00a1.2,1.2 0 1,0 2.4,0a1.2,1.2 0 1,0 -2.4,0M217.80,501.60a1.2,1.2 0 1,0 2.4,0a1.2,1.2 0 1,0 -2.4,0M218.30,506.00a1.2,1.2 0 1,0 2.4,0a1.2,1.2 0 1,0 -2.4,0M218.80,508.50a1.2,1.2 0 1,0 2.4,0a1.2,1.2 0 1,0 -2.4,0" fill="#8f0028"/>
<rect x="40.5" y="472.8" width="183.0" height="61.69999999999999" fill="none" stroke="#0a0a0a" stroke-width="1.5"/>
<line x1="37.3" y1="472.8" x2="40.5" y2="472.8" stroke="#111" stroke-width="1.1"/>
<text x="35.7" y="475.1" font-size="7" text-anchor="end" fill="#1c1c1c" stroke="#1c1c1c" stroke-width="0.16">120</text>
<line x1="37.3" y1="485.1" x2="40.5" y2="485.1" stroke="#111" stroke-width="1.1"/>
<text x="35.7" y="487.40000000000003" font-size="7" text-anchor="end" fill="#1c1c1c" stroke="#1c1c1c" stroke-width="0.16">110</text>
<line x1="37.3" y1="497.5" x2="40.5" y2="497.5" stroke="#111" stroke-width="1.1"/>
<text x="35.7" y="499.8" font-size="7" text-anchor="end" fill="#1c1c1c" stroke="#1c1c1c" stroke-width="0.16">100</text>
<line x1="37.3" y1="509.8" x2="40.5" y2="509.8" stroke="#111" stroke-width="1.1"/>
<text x="35.7" y="512.1" font-size="7" text-anchor="end" fill="#1c1c1c" stroke="#1c1c1c" stroke-width="0.16">90</text>
<line x1="37.3" y1="522.2" x2="40.5" y2="522.2" stroke="#111" stroke-width="1.1"/>
<text x="35.7" y="524.5" font-size="7" text-anchor="end" fill="#1c1c1c" stroke="#1c1c1c" stroke-width="0.16">80</text>
<line x1="37.3" y1="534.5" x2="40.5" y2="534.5" stroke="#111" stroke-width="1.1"/>
<text x="35.7" y="536.8" font-size="7" text-anchor="end" fill="#1c1c1c" stroke="#1c1c1c" stroke-width="0.16">70</text>
<line x1="223.5" y1="472.8" x2="226.7" y2="472.8" stroke="#111" stroke-width="1.1"/>
<text x="228.5" y="475.1" font-size="7" text-anchor="start" fill="#1c1c1c" stroke="#1c1c1c" stroke-width="0.16">20</text>
<line x1="223.5" y1="488.2" x2="226.7" y2="488.2" stroke="#111" stroke-width="1.1"/>
<text x="228.5" y="490.5" font-size="7" text-anchor="start" fill="#1c1c1c" stroke="#1c1c1c" stroke-width="0.16">15</text>
<line x1="223.5" y1="503.65" x2="226.7" y2="503.65" stroke="#111" stroke-width="1.1"/>
<text x="228.5" y="505.95" font-size="7" text-anchor="start" fill="#1c1c1c" stroke="#1c1c1c" stroke-width="0.16">10</text>
<line x1="223.5" y1="519.1" x2="226.7" y2="519.1" stroke="#111" stroke-width="1.1"/>
<text x="228.5" y="521.4" font-size="7" text-anchor="start" fill="#1c1c1c" stroke="#1c1c1c" stroke-width="0.16">5</text>
<line x1="223.5" y1="534.5" x2="226.7" y2="534.5" stroke="#111" stroke-width="1.1"/>
<text x="228.5" y="536.8" font-size="7" text-anchor="start" fill="#1c1c1c" stroke="#1c1c1c" stroke-width="0.16">0</text>
<path d="M46.4,530.5 L46.1,535.3000000000001" fill="none" stroke="#000" stroke-width="1.9"/>
<path d="M45.9,534.9000000000001 L44.8,534.9000000000001 L44.7,539.3000000000001" fill="none" stroke="#000" stroke-width="1.3"/>
<text x="65.5" y="545" font-size="6.9" text-anchor="middle" fill="#1c1c1c" stroke="#1c1c1c" stroke-width="0.16">0</text>
<text x="88" y="545" font-size="6.9" text-anchor="middle" fill="#1c1c1c" stroke="#1c1c1c" stroke-width="0.16">1</text>
<text x="110.5" y="545" font-size="6.9" text-anchor="middle" fill="#1c1c1c" stroke="#1c1c1c" stroke-width="0.16">2</text>
<text x="133" y="545" font-size="6.9" text-anchor="middle" fill="#1c1c1c" stroke="#1c1c1c" stroke-width="0.16">3</text>
<text x="155.7" y="545" font-size="6.9" text-anchor="middle" fill="#1c1c1c" stroke="#1c1c1c" stroke-width="0.16">4</text>
<text x="178.2" y="545" font-size="6.9" text-anchor="middle" fill="#1c1c1c" stroke="#1c1c1c" stroke-width="0.16">5</text>
<text x="200.9" y="545" font-size="6.9" text-anchor="middle" fill="#1c1c1c" stroke="#1c1c1c" stroke-width="0.16">6</text>
<text x="223.1" y="545" font-size="6.9" text-anchor="middle" fill="#1c1c1c" stroke="#1c1c1c" stroke-width="0.16">7</text>
<text x="15.3" y="505.8" font-size="8.2" text-anchor="middle" fill="#1a1a1a" transform="rotate(-90 15.3 505.8)" textLength="24.8" lengthAdjust="spacingAndGlyphs" stroke="#1a1a1a" stroke-width="0.22">MCV (fl)</text>
<text x="243.8" y="504.5" font-size="8.3" text-anchor="middle" fill="#1a1a1a" transform="rotate(90 243.8 504.5)" textLength="58.8" lengthAdjust="spacingAndGlyphs" stroke="#1a1a1a" stroke-width="0.22">Hemoglobin (g/dL)</text>
<text x="132.3" y="557.6" font-size="8.9" text-anchor="middle" fill="#1a1a1a" textLength="48.5" lengthAdjust="spacingAndGlyphs" stroke="#1a1a1a" stroke-width="0.22">Years after ASCT</text>
<line x1="112.6" y1="478.6" x2="123.6" y2="478.6" stroke="#b30533" stroke-width="1.5"/>
<rect x="116.9" y="477.4" width="2.4" height="2.4" fill="#8f0028"/>
<line x1="112.6" y1="486.7" x2="123.6" y2="486.7" stroke="#6db34a" stroke-width="1.4"/>
<rect x="117.1" y="485.7" width="2" height="2" fill="#5aa23a"/>
<text x="127" y="480.5" font-size="6.1" text-anchor="start" fill="#10182c" textLength="30.6" lengthAdjust="spacingAndGlyphs" stroke="#10182c" stroke-width="0.15">Hemoglobin</text>
<text x="127" y="488.7" font-size="6.1" text-anchor="start" fill="#10182c" textLength="12.4" lengthAdjust="spacingAndGlyphs" stroke="#10182c" stroke-width="0.15">MCV</text>
</svg>
</body></html>
